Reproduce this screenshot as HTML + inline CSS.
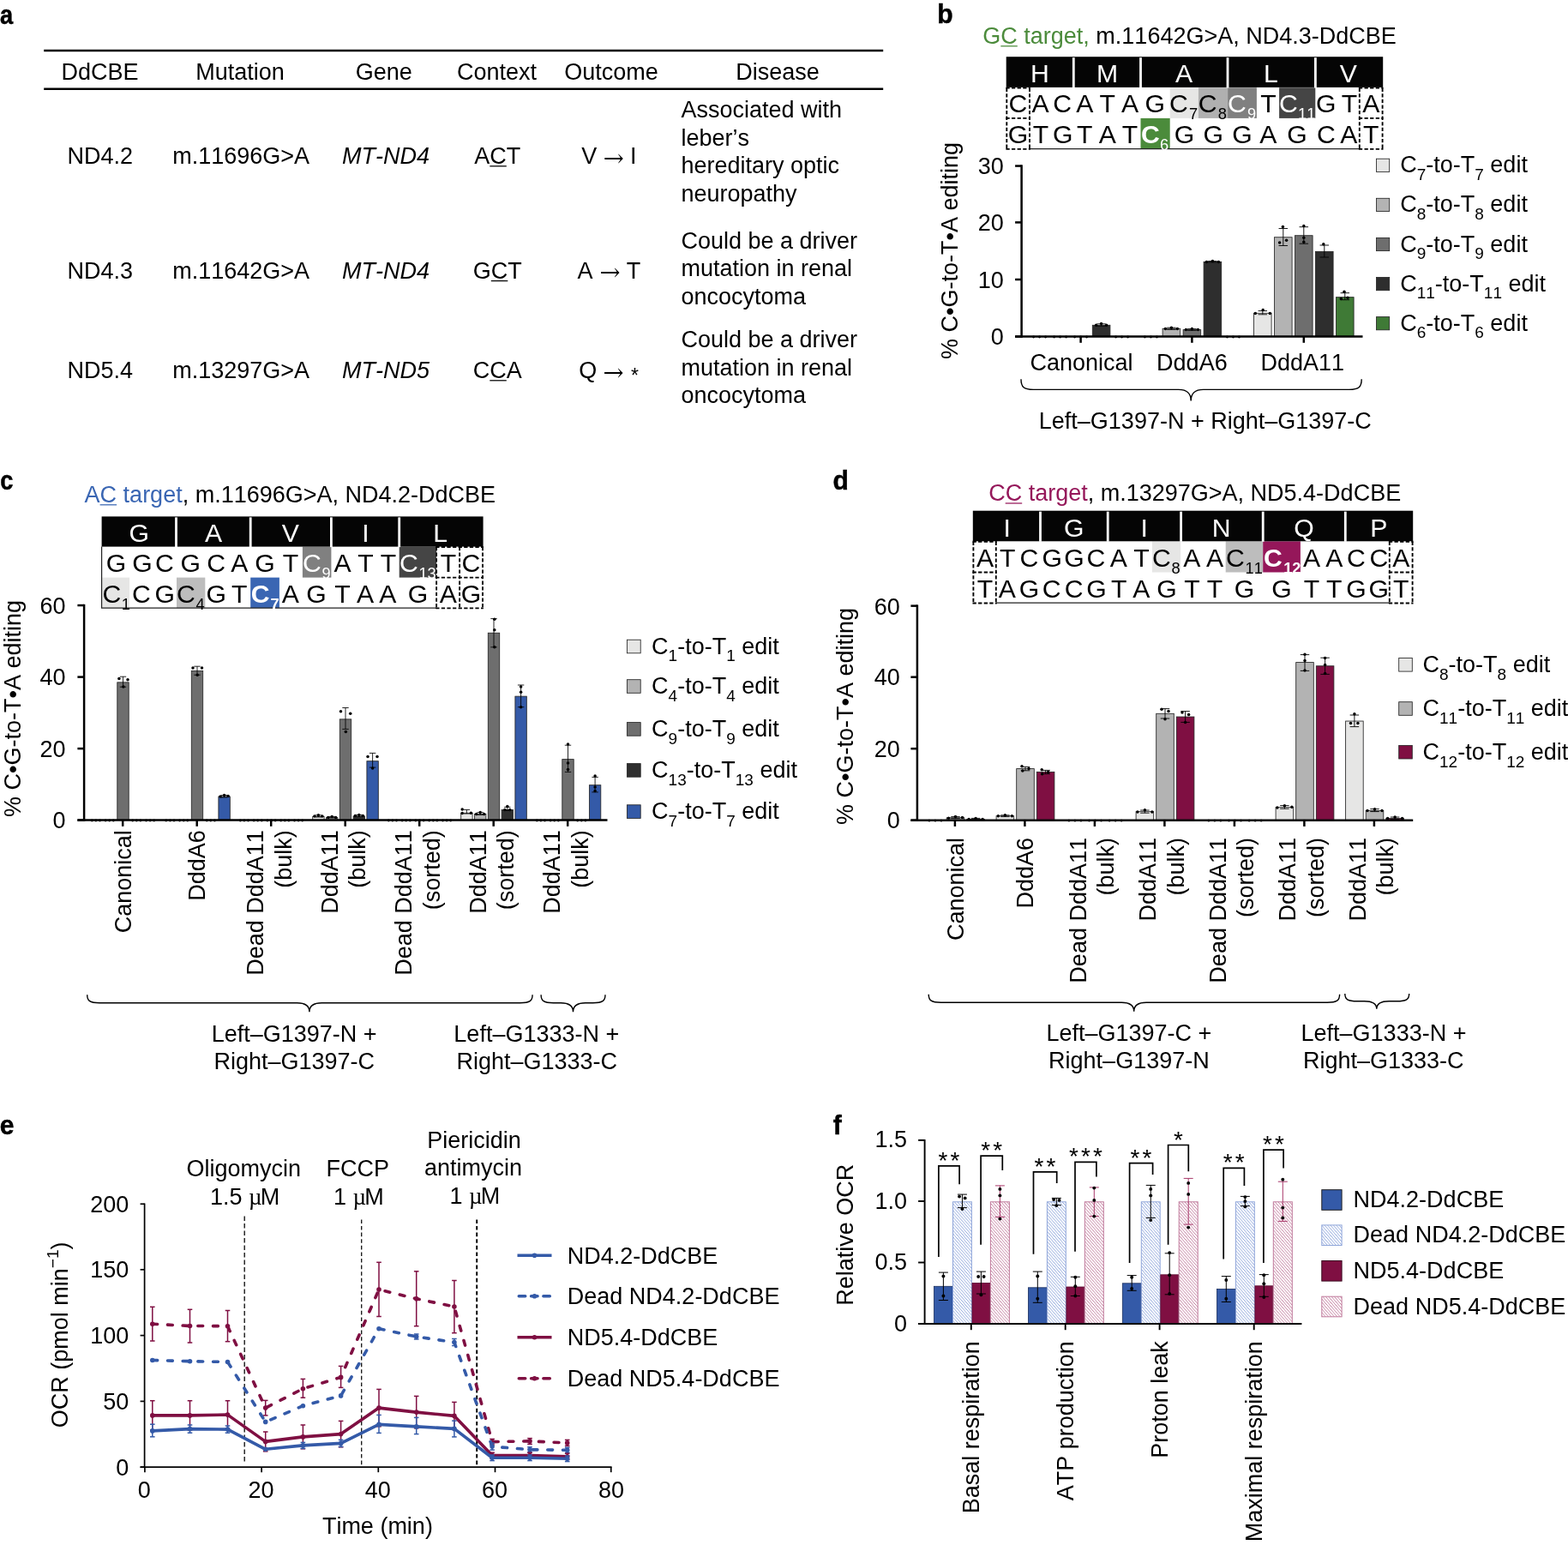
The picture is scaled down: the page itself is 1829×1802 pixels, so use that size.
<!DOCTYPE html>
<html lang="en"><head><meta charset="utf-8"><title>Figure</title>
<style>
html,body{margin:0;padding:0;background:#fff}
body{width:1829px;height:1802px;overflow:hidden}
svg{display:block;position:absolute;left:0;top:0;font-family:"Liberation Sans",sans-serif;font-size:27px;font-kerning:none}
text{white-space:pre}
</style></head><body>
<svg width="1829" height="1802" viewBox="0 0 1829 1802">
<rect width="1829" height="1802" fill="#fff"/>
<g id="pa">
<text transform="translate(0 28.2) scale(0.85 1)" font-size="32" font-weight="bold" stroke="#000" stroke-width="0.5">a</text>
<line x1="51.2" y1="59" x2="1030.2" y2="59" stroke="#000" stroke-width="2.5"/>
<line x1="51.2" y1="103.7" x2="1030.2" y2="103.7" stroke="#000" stroke-width="2.5"/>
<text text-anchor="middle" x="116.6" y="92.5">DdCBE</text>
<text text-anchor="middle" x="280" y="92.5">Mutation</text>
<text text-anchor="middle" x="447.7" y="92.5">Gene</text>
<text text-anchor="middle" x="579.5" y="92.5">Context</text>
<text text-anchor="middle" x="713" y="92.5">Outcome</text>
<text text-anchor="middle" x="907" y="92.5">Disease</text>
<text text-anchor="middle" x="116.7" y="191.2">ND4.2</text>
<text text-anchor="middle" x="281.2" y="191.2">m.11696G&gt;A</text>
<text text-anchor="middle" font-style="italic" x="450" y="191.2">MT-ND4</text>
<text text-anchor="middle" x="580.3" y="191.2">ACT</text>
<line x1="571.31" y1="193.8" x2="590.8" y2="193.8" stroke="#000" stroke-width="1.25"/>
<text y="191.2" text-anchor="middle"><tspan x="687.3">V</tspan><tspan x="715.9" dy="0.3" font-size="25.6" font-family="DejaVu Math TeX Gyre,DejaVu Sans,sans-serif"> → </tspan><tspan x="738.8" dy="-0.3">I</tspan></text>
<text x="794.5" y="137.4">Associated with</text>
<text x="794.5" y="169.87">leber’s</text>
<text x="794.5" y="202.34">hereditary optic</text>
<text x="794.5" y="234.81">neuropathy</text>
<text text-anchor="middle" x="116.7" y="325">ND4.3</text>
<text text-anchor="middle" x="281.2" y="325">m.11642G&gt;A</text>
<text text-anchor="middle" font-style="italic" x="450" y="325">MT-ND4</text>
<text text-anchor="middle" x="580.3" y="325">GCT</text>
<line x1="572.81" y1="327.6" x2="592.3" y2="327.6" stroke="#000" stroke-width="1.25"/>
<text y="325" text-anchor="middle"><tspan x="682.5">A</tspan><tspan x="711.6" dy="0.3" font-size="25.6" font-family="DejaVu Math TeX Gyre,DejaVu Sans,sans-serif"> → </tspan><tspan x="739" dy="-0.3">T</tspan></text>
<text x="794.5" y="289.8">Could be a driver</text>
<text x="794.5" y="322.27">mutation in renal</text>
<text x="794.5" y="354.74">oncocytoma</text>
<text text-anchor="middle" x="116.7" y="441.2">ND5.4</text>
<text text-anchor="middle" x="281.2" y="441.2">m.13297G&gt;A</text>
<text text-anchor="middle" font-style="italic" x="450" y="441.2">MT-ND5</text>
<text text-anchor="middle" x="580.3" y="441.2">CCA</text>
<line x1="571.3" y1="443.8" x2="590.79" y2="443.8" stroke="#000" stroke-width="1.25"/>
<text y="441.2" text-anchor="middle"><tspan x="685.8">Q</tspan><tspan x="715.6" dy="0.3" font-size="25.6" font-family="DejaVu Math TeX Gyre,DejaVu Sans,sans-serif"> → </tspan><tspan x="740.4" dy="4.9" font-size="23">*</tspan></text>
<text x="794.5" y="405.1">Could be a driver</text>
<text x="794.5" y="437.57">mutation in renal</text>
<text x="794.5" y="470.04">oncocytoma</text>
</g>
<g id="pb">
<text transform="translate(1093.3 27.4) scale(0.94 1)" font-size="32" font-weight="bold" stroke="#000" stroke-width="0.5">b</text>
<text x="1146.3" y="51.2"><tspan fill="#4b8b3b">G</tspan><tspan fill="#4b8b3b">C</tspan><tspan fill="#4b8b3b"> target,</tspan> m.11642G&gt;A, ND4.3-DdCBE</text>
<line x1="1167.31" y1="53.8" x2="1186.8" y2="53.8" stroke="#4b8b3b" stroke-width="1.25"/>
<rect x="1364.7" y="102.2" width="33.2" height="35.7" fill="#e6e6e5"/>
<rect x="1397.9" y="102.2" width="34.2" height="35.7" fill="#b0b0b0"/>
<rect x="1432.1" y="102.2" width="33.8" height="35.7" fill="#808080"/>
<rect x="1492.1" y="102.2" width="42.2" height="35.7" fill="#454545"/>
<rect x="1330.5" y="137.9" width="34.2" height="35.4" fill="#4b8b3b"/>
<rect x="1173.7" y="66.2" width="439.5" height="35.7" fill="#050505"/>
<rect x="1250.9" y="67.2" width="2.8" height="35.2" fill="#fff"/>
<rect x="1329.1" y="67.2" width="2.8" height="35.2" fill="#fff"/>
<rect x="1430.6" y="67.2" width="2.8" height="35.2" fill="#fff"/>
<rect x="1533" y="67.2" width="2.8" height="35.2" fill="#fff"/>
<text font-size="30.2" text-anchor="middle" fill="#fff" x="1213" y="96">H</text>
<text font-size="30.2" text-anchor="middle" fill="#fff" x="1291.5" y="96">M</text>
<text font-size="30.2" text-anchor="middle" fill="#fff" x="1381" y="96">A</text>
<text font-size="30.2" text-anchor="middle" fill="#fff" x="1482.4" y="96">L</text>
<text font-size="30.2" text-anchor="middle" fill="#fff" x="1572.8" y="96">V</text>
<line x1="1201" y1="173.6" x2="1586" y2="173.6" stroke="#222" stroke-width="1.2"/>
<line x1="1173.4" y1="102.6" x2="1201.9" y2="102.6" stroke="#000" stroke-width="1.85" stroke-dasharray="4.3 2.3"/>
<line x1="1173.4" y1="137.9" x2="1201.9" y2="137.9" stroke="#000" stroke-width="1.85" stroke-dasharray="4.3 2.3"/>
<line x1="1173.4" y1="173.9" x2="1201.9" y2="173.9" stroke="#000" stroke-width="1.85" stroke-dasharray="4.3 2.3"/>
<line x1="1174.3" y1="102.6" x2="1174.3" y2="173.9" stroke="#000" stroke-width="1.85" stroke-dasharray="4.3 2.3"/>
<line x1="1201" y1="102.6" x2="1201" y2="173.9" stroke="#000" stroke-width="1.85" stroke-dasharray="4.3 2.3"/>
<line x1="1584.9" y1="102.6" x2="1613.5" y2="102.6" stroke="#000" stroke-width="1.85" stroke-dasharray="4.3 2.3"/>
<line x1="1584.9" y1="137.9" x2="1613.5" y2="137.9" stroke="#000" stroke-width="1.85" stroke-dasharray="4.3 2.3"/>
<line x1="1584.9" y1="173.9" x2="1613.5" y2="173.9" stroke="#000" stroke-width="1.85" stroke-dasharray="4.3 2.3"/>
<line x1="1585.8" y1="102.6" x2="1585.8" y2="173.9" stroke="#000" stroke-width="1.85" stroke-dasharray="4.3 2.3"/>
<line x1="1612.6" y1="102.6" x2="1612.6" y2="173.9" stroke="#000" stroke-width="1.85" stroke-dasharray="4.3 2.3"/>
<text font-size="30.2" text-anchor="middle" x="1187.4" y="131.4">C</text>
<text font-size="30.2" text-anchor="middle" x="1213.6" y="131.4">A</text>
<text font-size="30.2" text-anchor="middle" x="1239.1" y="131.4">C</text>
<text font-size="30.2" text-anchor="middle" x="1265.3" y="131.4">A</text>
<text font-size="30.2" text-anchor="middle" x="1291.8" y="131.4">T</text>
<text font-size="30.2" text-anchor="middle" x="1318" y="131.4">A</text>
<text font-size="30.2" text-anchor="middle" x="1347.2" y="131.4">G</text>
<text font-size="30.2" text-anchor="middle" x="1375" y="131.4">C</text>
<text font-size="18.3" x="1387" y="138.9">7</text>
<text font-size="30.2" text-anchor="middle" x="1408.7" y="131.4">C</text>
<text font-size="18.3" x="1420.7" y="138.9">8</text>
<text font-size="30.2" text-anchor="middle" fill="#fff" x="1442.9" y="131.4">C</text>
<text font-size="18.3" fill="#fff" x="1454.9" y="138.9">9</text>
<text font-size="30.2" text-anchor="middle" x="1479.5" y="131.4">T</text>
<text font-size="30.2" text-anchor="middle" fill="#fff" x="1503" y="131.4">C</text>
<text font-size="18.3" fill="#fff" x="1514" y="138.9">11</text>
<text font-size="30.2" text-anchor="middle" x="1546.8" y="131.4">G</text>
<text font-size="30.2" text-anchor="middle" x="1574" y="131.4">T</text>
<text font-size="30.2" text-anchor="middle" x="1599.3" y="131.4">A</text>
<text font-size="30.2" text-anchor="middle" x="1187.4" y="167.1">G</text>
<text font-size="30.2" text-anchor="middle" x="1214.1" y="167.1">T</text>
<text font-size="30.2" text-anchor="middle" x="1239.8" y="167.1">G</text>
<text font-size="30.2" text-anchor="middle" x="1265.3" y="167.1">T</text>
<text font-size="30.2" text-anchor="middle" x="1291.8" y="167.1">A</text>
<text font-size="30.2" text-anchor="middle" x="1318" y="167.1">T</text>
<text font-size="30.2" text-anchor="middle" fill="#fff" font-weight="bold" x="1341.8" y="167.1">C</text>
<text font-size="18.3" fill="#fff" x="1353" y="174.6">6</text>
<text font-size="30.2" text-anchor="middle" x="1381.4" y="167.1">G</text>
<text font-size="30.2" text-anchor="middle" x="1415.2" y="167.1">G</text>
<text font-size="30.2" text-anchor="middle" x="1449" y="167.1">G</text>
<text font-size="30.2" text-anchor="middle" x="1479.3" y="167.1">A</text>
<text font-size="30.2" text-anchor="middle" x="1513" y="167.1">G</text>
<text font-size="30.2" text-anchor="middle" x="1546.8" y="167.1">C</text>
<text font-size="30.2" text-anchor="middle" x="1573.2" y="167.1">A</text>
<text font-size="30.2" text-anchor="middle" x="1599.3" y="167.1">T</text>
<line x1="1184.1" y1="392.6" x2="1191.6" y2="392.6" stroke="#000" stroke-width="2.5"/>
<text text-anchor="end" x="1170.7" y="402.2">0</text>
<line x1="1184.1" y1="326" x2="1191.6" y2="326" stroke="#000" stroke-width="2.5"/>
<text text-anchor="end" x="1170.7" y="335.6">10</text>
<line x1="1184.1" y1="259.4" x2="1191.6" y2="259.4" stroke="#000" stroke-width="2.5"/>
<text text-anchor="end" x="1170.7" y="269">20</text>
<line x1="1184.1" y1="193.55" x2="1191.6" y2="193.55" stroke="#000" stroke-width="2.5"/>
<text text-anchor="end" x="1170.7" y="203.2">30</text>
<text text-anchor="middle" transform="translate(1116.6 292.5) rotate(-90)">% C•G-to-T•A editing</text>
<circle cx="1205.6" cy="393.05" r="1.45" fill="#000"/>
<circle cx="1212.6" cy="393.05" r="1.45" fill="#000"/>
<circle cx="1219.6" cy="393.05" r="1.45" fill="#000"/>
<circle cx="1229.6" cy="393.05" r="1.45" fill="#000"/>
<circle cx="1236.6" cy="393.05" r="1.45" fill="#000"/>
<circle cx="1243.6" cy="393.05" r="1.45" fill="#000"/>
<circle cx="1253.6" cy="393.05" r="1.45" fill="#000"/>
<circle cx="1260.6" cy="393.05" r="1.45" fill="#000"/>
<circle cx="1267.6" cy="393.05" r="1.45" fill="#000"/>
<circle cx="1301.6" cy="393.05" r="1.45" fill="#000"/>
<circle cx="1308.6" cy="393.05" r="1.45" fill="#000"/>
<circle cx="1315.6" cy="393.05" r="1.45" fill="#000"/>
<circle cx="1335.4" cy="393.05" r="1.45" fill="#000"/>
<circle cx="1342.4" cy="393.05" r="1.45" fill="#000"/>
<circle cx="1349.4" cy="393.05" r="1.45" fill="#000"/>
<circle cx="1431.4" cy="393.05" r="1.45" fill="#000"/>
<circle cx="1438.4" cy="393.05" r="1.45" fill="#000"/>
<circle cx="1445.4" cy="393.05" r="1.45" fill="#000"/>
<rect x="1274.3" y="379.28" width="20.6" height="13.32" fill="#2e2e2e" stroke="#262626" stroke-width="0.85"/>
<rect x="1356.1" y="383.28" width="20.6" height="9.32" fill="#b3b3b3" stroke="#262626" stroke-width="0.85"/>
<rect x="1380.1" y="384.61" width="20.6" height="7.99" fill="#6e6e6e" stroke="#262626" stroke-width="0.85"/>
<rect x="1404.1" y="305.35" width="20.6" height="87.25" fill="#2e2e2e" stroke="#262626" stroke-width="0.85"/>
<rect x="1462.5" y="365.29" width="20.6" height="27.31" fill="#e6e6e5" stroke="#262626" stroke-width="0.85"/>
<rect x="1486.5" y="276.72" width="20.6" height="115.88" fill="#b3b3b3" stroke="#262626" stroke-width="0.85"/>
<rect x="1510.5" y="274.72" width="20.6" height="117.88" fill="#6e6e6e" stroke="#262626" stroke-width="0.85"/>
<rect x="1534.5" y="293.37" width="20.6" height="99.23" fill="#2e2e2e" stroke="#262626" stroke-width="0.85"/>
<rect x="1558.5" y="346.65" width="20.6" height="45.95" fill="#3f7a36" stroke="#262626" stroke-width="0.85"/>
<line x1="1284.6" y1="377.8" x2="1284.6" y2="380.2" stroke="#000" stroke-width="0.9"/>
<line x1="1279.35" y1="377.8" x2="1289.85" y2="377.8" stroke="#000" stroke-width="0.9"/>
<line x1="1279.35" y1="380.2" x2="1289.85" y2="380.2" stroke="#000" stroke-width="0.9"/>
<circle cx="1278.6" cy="379.3" r="1.75" fill="#000"/>
<circle cx="1284.6" cy="377.4" r="1.75" fill="#000"/>
<circle cx="1290.6" cy="379.3" r="1.75" fill="#000"/>
<line x1="1366.4" y1="382.2" x2="1366.4" y2="384.4" stroke="#000" stroke-width="0.9"/>
<line x1="1361.15" y1="382.2" x2="1371.65" y2="382.2" stroke="#000" stroke-width="0.9"/>
<line x1="1361.15" y1="384.4" x2="1371.65" y2="384.4" stroke="#000" stroke-width="0.9"/>
<circle cx="1359.4" cy="383.4" r="1.75" fill="#000"/>
<circle cx="1366.4" cy="382.2" r="1.75" fill="#000"/>
<circle cx="1373.4" cy="383.4" r="1.75" fill="#000"/>
<line x1="1390.4" y1="383.6" x2="1390.4" y2="385.4" stroke="#000" stroke-width="0.9"/>
<line x1="1385.15" y1="383.6" x2="1395.65" y2="383.6" stroke="#000" stroke-width="0.9"/>
<line x1="1385.15" y1="385.4" x2="1395.65" y2="385.4" stroke="#000" stroke-width="0.9"/>
<circle cx="1383.4" cy="384.6" r="1.75" fill="#000"/>
<circle cx="1390.4" cy="383.6" r="1.75" fill="#000"/>
<circle cx="1397.4" cy="384.6" r="1.75" fill="#000"/>
<line x1="1414.4" y1="304.6" x2="1414.4" y2="305.9" stroke="#000" stroke-width="0.9"/>
<line x1="1409.15" y1="304.6" x2="1419.65" y2="304.6" stroke="#000" stroke-width="0.9"/>
<line x1="1409.15" y1="305.9" x2="1419.65" y2="305.9" stroke="#000" stroke-width="0.9"/>
<circle cx="1407.4" cy="305.4" r="1.75" fill="#000"/>
<circle cx="1414.4" cy="304.6" r="1.75" fill="#000"/>
<circle cx="1421.4" cy="305.4" r="1.75" fill="#000"/>
<line x1="1472.8" y1="362.6" x2="1472.8" y2="366.8" stroke="#000" stroke-width="0.9"/>
<line x1="1467.55" y1="362.6" x2="1478.05" y2="362.6" stroke="#000" stroke-width="0.9"/>
<line x1="1467.55" y1="366.8" x2="1478.05" y2="366.8" stroke="#000" stroke-width="0.9"/>
<circle cx="1464.3" cy="365.4" r="1.75" fill="#000"/>
<circle cx="1473.2" cy="361.4" r="1.75" fill="#000"/>
<circle cx="1481.3" cy="365.4" r="1.75" fill="#000"/>
<line x1="1496.8" y1="266.5" x2="1496.8" y2="286.5" stroke="#000" stroke-width="0.9"/>
<line x1="1491.55" y1="266.5" x2="1502.05" y2="266.5" stroke="#000" stroke-width="0.9"/>
<line x1="1491.55" y1="286.5" x2="1502.05" y2="286.5" stroke="#000" stroke-width="0.9"/>
<circle cx="1496.4" cy="264.5" r="1.75" fill="#000"/>
<circle cx="1492.6" cy="283" r="1.75" fill="#000"/>
<circle cx="1500.6" cy="280.2" r="1.75" fill="#000"/>
<line x1="1520.8" y1="264.7" x2="1520.8" y2="284.2" stroke="#000" stroke-width="0.9"/>
<line x1="1515.55" y1="264.7" x2="1526.05" y2="264.7" stroke="#000" stroke-width="0.9"/>
<line x1="1515.55" y1="284.2" x2="1526.05" y2="284.2" stroke="#000" stroke-width="0.9"/>
<circle cx="1520.8" cy="263.5" r="1.75" fill="#000"/>
<circle cx="1520.8" cy="277.2" r="1.75" fill="#000"/>
<circle cx="1520.8" cy="282.2" r="1.75" fill="#000"/>
<line x1="1544.8" y1="286" x2="1544.8" y2="300" stroke="#000" stroke-width="0.9"/>
<line x1="1539.55" y1="286" x2="1550.05" y2="286" stroke="#000" stroke-width="0.9"/>
<line x1="1539.55" y1="300" x2="1550.05" y2="300" stroke="#000" stroke-width="0.9"/>
<circle cx="1543.8" cy="284.7" r="1.75" fill="#000"/>
<line x1="1568.8" y1="341.7" x2="1568.8" y2="349.7" stroke="#000" stroke-width="0.9"/>
<line x1="1563.55" y1="341.7" x2="1574.05" y2="341.7" stroke="#000" stroke-width="0.9"/>
<line x1="1563.55" y1="349.7" x2="1574.05" y2="349.7" stroke="#000" stroke-width="0.9"/>
<circle cx="1568" cy="340.2" r="1.75" fill="#000"/>
<circle cx="1564.3" cy="348.4" r="1.75" fill="#000"/>
<circle cx="1572" cy="347.2" r="1.75" fill="#000"/>
<line x1="1191.6" y1="192.3" x2="1191.6" y2="393.85" stroke="#000" stroke-width="2.5"/>
<line x1="1184.1" y1="392.6" x2="1589.5" y2="392.6" stroke="#000" stroke-width="2.5"/>
<line x1="1260.6" y1="392.6" x2="1260.6" y2="399.8" stroke="#000" stroke-width="2.5"/>
<line x1="1390.4" y1="392.6" x2="1390.4" y2="399.8" stroke="#000" stroke-width="2.5"/>
<line x1="1520.8" y1="392.6" x2="1520.8" y2="399.8" stroke="#000" stroke-width="2.5"/>
<text text-anchor="middle" x="1261.5" y="431.6">Canonical</text>
<text text-anchor="middle" x="1390.4" y="431.6">DddA6</text>
<text text-anchor="middle" x="1519.3" y="431.6">DddA11</text>
<path d="M1191,442.3 C1191,451.38 1194.15,454.4 1205.4,454.4 L1374.8,454.4 C1384.7,454.4 1389.2,458.33 1389.2,467.5 C1389.2,458.33 1393.7,454.4 1403.6,454.4 L1573.8,454.4 C1585.05,454.4 1588.2,451.38 1588.2,442.3" fill="none" stroke="#000" stroke-width="1.4"/>
<text text-anchor="middle" x="1405.8" y="499.7">Left–G1397-N + Right–G1397-C</text>
<rect x="1605.5" y="185.2" width="15.2" height="15.2" fill="#e6e6e5" stroke="#262626" stroke-width="0.85"/>
<text x="1633.2" y="201.3">C<tspan font-size="19" dy="8.6">7</tspan><tspan dy="-8.6">-to-T</tspan><tspan font-size="19" dy="8.6">7</tspan><tspan dy="-8.6"> edit</tspan></text>
<rect x="1605.5" y="231.3" width="15.2" height="15.2" fill="#b3b3b3" stroke="#262626" stroke-width="0.85"/>
<text x="1633.2" y="247.4">C<tspan font-size="19" dy="8.6">8</tspan><tspan dy="-8.6">-to-T</tspan><tspan font-size="19" dy="8.6">8</tspan><tspan dy="-8.6"> edit</tspan></text>
<rect x="1605.5" y="277.4" width="15.2" height="15.2" fill="#6e6e6e" stroke="#262626" stroke-width="0.85"/>
<text x="1633.2" y="293.5">C<tspan font-size="19" dy="8.6">9</tspan><tspan dy="-8.6">-to-T</tspan><tspan font-size="19" dy="8.6">9</tspan><tspan dy="-8.6"> edit</tspan></text>
<rect x="1605.5" y="323.5" width="15.2" height="15.2" fill="#2e2e2e" stroke="#262626" stroke-width="0.85"/>
<text x="1633.2" y="339.6">C<tspan font-size="19" dy="8.6">11</tspan><tspan dy="-8.6">-to-T</tspan><tspan font-size="19" dy="8.6">11</tspan><tspan dy="-8.6"> edit</tspan></text>
<rect x="1605.5" y="369.6" width="15.2" height="15.2" fill="#3f7a36" stroke="#262626" stroke-width="0.85"/>
<text x="1633.2" y="385.7">C<tspan font-size="19" dy="8.6">6</tspan><tspan dy="-8.6">-to-T</tspan><tspan font-size="19" dy="8.6">6</tspan><tspan dy="-8.6"> edit</tspan></text>
</g>
<g id="pc">
<text transform="translate(0.2 570.5) scale(0.85 1)" font-size="32" font-weight="bold" stroke="#000" stroke-width="0.5">c</text>
<text x="98.6" y="586.2"><tspan fill="#3a66b3">A</tspan><tspan fill="#3a66b3">C</tspan><tspan fill="#3a66b3"> target</tspan>, m.11696G&gt;A, ND4.2-DdCBE</text>
<line x1="116.61" y1="588.8" x2="136.1" y2="588.8" stroke="#3a66b3" stroke-width="1.25"/>
<rect x="352.9" y="637.6" width="33.5" height="36" fill="#808080"/>
<rect x="465.7" y="637.6" width="43.4" height="36" fill="#454545"/>
<rect x="119.2" y="673.6" width="31.9" height="35.5" fill="#e6e6e5"/>
<rect x="206" y="673.6" width="33.3" height="35.5" fill="#bdbdbd"/>
<rect x="292.2" y="673.6" width="33.7" height="35.5" fill="#3a66b3"/>
<rect x="118.6" y="602.4" width="445" height="35.2" fill="#050505"/>
<rect x="204.1" y="603.4" width="2.8" height="34.7" fill="#fff"/>
<rect x="290.8" y="603.4" width="2.8" height="34.7" fill="#fff"/>
<rect x="385" y="603.4" width="2.8" height="34.7" fill="#fff"/>
<rect x="464.3" y="603.4" width="2.8" height="34.7" fill="#fff"/>
<text font-size="30.2" text-anchor="middle" fill="#fff" x="162.3" y="631.8">G</text>
<text font-size="30.2" text-anchor="middle" fill="#fff" x="249" y="631.8">A</text>
<text font-size="30.2" text-anchor="middle" fill="#fff" x="338.9" y="631.8">V</text>
<text font-size="30.2" text-anchor="middle" fill="#fff" x="426.5" y="631.8">I</text>
<text font-size="30.2" text-anchor="middle" fill="#fff" x="513.6" y="631.8">L</text>
<line x1="118.6" y1="637.6" x2="118.6" y2="709.1" stroke="#222" stroke-width="1.2"/>
<line x1="118" y1="709.1" x2="509.1" y2="709.1" stroke="#222" stroke-width="1.2"/>
<line x1="508.2" y1="638" x2="563.9" y2="638" stroke="#000" stroke-width="1.85" stroke-dasharray="4.3 2.3"/>
<line x1="508.2" y1="673.6" x2="563.9" y2="673.6" stroke="#000" stroke-width="1.85" stroke-dasharray="4.3 2.3"/>
<line x1="508.2" y1="709.4" x2="563.9" y2="709.4" stroke="#000" stroke-width="1.85" stroke-dasharray="4.3 2.3"/>
<line x1="509.1" y1="638" x2="509.1" y2="709.4" stroke="#000" stroke-width="1.85" stroke-dasharray="4.3 2.3"/>
<line x1="536.1" y1="638" x2="536.1" y2="709.4" stroke="#000" stroke-width="1.85" stroke-dasharray="4.3 2.3"/>
<line x1="563" y1="638" x2="563" y2="709.4" stroke="#000" stroke-width="1.85" stroke-dasharray="4.3 2.3"/>
<text font-size="30.2" text-anchor="middle" x="135.6" y="667.3">G</text>
<text font-size="30.2" text-anchor="middle" x="166.1" y="667.3">G</text>
<text font-size="30.2" text-anchor="middle" x="191.8" y="667.3">C</text>
<text font-size="30.2" text-anchor="middle" x="222.3" y="667.3">G</text>
<text font-size="30.2" text-anchor="middle" x="252.2" y="667.3">C</text>
<text font-size="30.2" text-anchor="middle" x="279.2" y="667.3">A</text>
<text font-size="30.2" text-anchor="middle" x="308.9" y="667.3">G</text>
<text font-size="30.2" text-anchor="middle" x="338.9" y="667.3">T</text>
<text font-size="30.2" text-anchor="middle" fill="#fff" x="364" y="667.3">C</text>
<text font-size="18.3" fill="#fff" x="375.6" y="674.8">9</text>
<text font-size="30.2" text-anchor="middle" x="399.6" y="667.3">A</text>
<text font-size="30.2" text-anchor="middle" x="426.5" y="667.3">T</text>
<text font-size="30.2" text-anchor="middle" x="452.9" y="667.3">T</text>
<text font-size="30.2" text-anchor="middle" fill="#fff" x="476.8" y="667.3">C</text>
<text font-size="18.3" fill="#fff" x="488.4" y="674.8">13</text>
<text font-size="30.2" text-anchor="middle" x="522.9" y="667.3">T</text>
<text font-size="30.2" text-anchor="middle" x="549.4" y="667.3">C</text>
<text font-size="30.2" text-anchor="middle" x="130.3" y="703">C</text>
<text font-size="18.3" x="141.8" y="710.5">1</text>
<text font-size="30.2" text-anchor="middle" x="164.8" y="703">C</text>
<text font-size="30.2" text-anchor="middle" x="192.3" y="703">G</text>
<text font-size="30.2" text-anchor="middle" x="217" y="703">C</text>
<text font-size="18.3" x="228.6" y="710.5">4</text>
<text font-size="30.2" text-anchor="middle" x="252.2" y="703">G</text>
<text font-size="30.2" text-anchor="middle" x="279.2" y="703">T</text>
<text font-size="30.2" text-anchor="middle" fill="#fff" font-weight="bold" x="303.6" y="703">C</text>
<text font-size="18.3" fill="#fff" font-weight="bold" x="315.5" y="710.5">7</text>
<text font-size="30.2" text-anchor="middle" x="338.9" y="703">A</text>
<text font-size="30.2" text-anchor="middle" x="369.1" y="703">G</text>
<text font-size="30.2" text-anchor="middle" x="399.6" y="703">T</text>
<text font-size="30.2" text-anchor="middle" x="426" y="703">A</text>
<text font-size="30.2" text-anchor="middle" x="452.4" y="703">A</text>
<text font-size="30.2" text-anchor="middle" x="487.4" y="703">G</text>
<text font-size="30.2" text-anchor="middle" x="522.9" y="703">A</text>
<text font-size="30.2" text-anchor="middle" x="549.4" y="703">G</text>
<line x1="90.4" y1="956.6" x2="98.1" y2="956.6" stroke="#000" stroke-width="2.5"/>
<text text-anchor="end" x="76.6" y="966.3">0</text>
<line x1="90.4" y1="873.1" x2="98.1" y2="873.1" stroke="#000" stroke-width="2.5"/>
<text text-anchor="end" x="76.6" y="882.8">20</text>
<line x1="90.4" y1="789.6" x2="98.1" y2="789.6" stroke="#000" stroke-width="2.5"/>
<text text-anchor="end" x="76.6" y="799.3">40</text>
<line x1="90.4" y1="706.05" x2="98.1" y2="706.05" stroke="#000" stroke-width="2.5"/>
<text text-anchor="end" x="76.6" y="716.4">60</text>
<text text-anchor="middle" transform="translate(23.9 826.5) rotate(-90)">% C•G-to-T•A editing</text>
<circle cx="107.3" cy="957.05" r="1.45" fill="#000"/>
<circle cx="111.9" cy="957.05" r="1.45" fill="#000"/>
<circle cx="116.5" cy="957.05" r="1.45" fill="#000"/>
<circle cx="123.1" cy="957.05" r="1.45" fill="#000"/>
<circle cx="127.7" cy="957.05" r="1.45" fill="#000"/>
<circle cx="132.3" cy="957.05" r="1.45" fill="#000"/>
<circle cx="154.7" cy="957.05" r="1.45" fill="#000"/>
<circle cx="159.3" cy="957.05" r="1.45" fill="#000"/>
<circle cx="163.9" cy="957.05" r="1.45" fill="#000"/>
<circle cx="170.5" cy="957.05" r="1.45" fill="#000"/>
<circle cx="175.1" cy="957.05" r="1.45" fill="#000"/>
<circle cx="179.7" cy="957.05" r="1.45" fill="#000"/>
<circle cx="193.8" cy="957.05" r="1.45" fill="#000"/>
<circle cx="198.4" cy="957.05" r="1.45" fill="#000"/>
<circle cx="203" cy="957.05" r="1.45" fill="#000"/>
<circle cx="209.6" cy="957.05" r="1.45" fill="#000"/>
<circle cx="214.2" cy="957.05" r="1.45" fill="#000"/>
<circle cx="218.8" cy="957.05" r="1.45" fill="#000"/>
<circle cx="241.2" cy="957.05" r="1.45" fill="#000"/>
<circle cx="245.8" cy="957.05" r="1.45" fill="#000"/>
<circle cx="250.4" cy="957.05" r="1.45" fill="#000"/>
<circle cx="280.3" cy="957.05" r="1.45" fill="#000"/>
<circle cx="284.9" cy="957.05" r="1.45" fill="#000"/>
<circle cx="289.5" cy="957.05" r="1.45" fill="#000"/>
<circle cx="296.1" cy="957.05" r="1.45" fill="#000"/>
<circle cx="300.7" cy="957.05" r="1.45" fill="#000"/>
<circle cx="305.3" cy="957.05" r="1.45" fill="#000"/>
<circle cx="311.9" cy="957.05" r="1.45" fill="#000"/>
<circle cx="316.5" cy="957.05" r="1.45" fill="#000"/>
<circle cx="321.1" cy="957.05" r="1.45" fill="#000"/>
<circle cx="327.7" cy="957.05" r="1.45" fill="#000"/>
<circle cx="332.3" cy="957.05" r="1.45" fill="#000"/>
<circle cx="336.9" cy="957.05" r="1.45" fill="#000"/>
<circle cx="343.5" cy="957.05" r="1.45" fill="#000"/>
<circle cx="348.1" cy="957.05" r="1.45" fill="#000"/>
<circle cx="352.7" cy="957.05" r="1.45" fill="#000"/>
<circle cx="453.3" cy="957.05" r="1.45" fill="#000"/>
<circle cx="457.9" cy="957.05" r="1.45" fill="#000"/>
<circle cx="462.5" cy="957.05" r="1.45" fill="#000"/>
<circle cx="469.1" cy="957.05" r="1.45" fill="#000"/>
<circle cx="473.7" cy="957.05" r="1.45" fill="#000"/>
<circle cx="478.3" cy="957.05" r="1.45" fill="#000"/>
<circle cx="484.9" cy="957.05" r="1.45" fill="#000"/>
<circle cx="489.5" cy="957.05" r="1.45" fill="#000"/>
<circle cx="494.1" cy="957.05" r="1.45" fill="#000"/>
<circle cx="500.7" cy="957.05" r="1.45" fill="#000"/>
<circle cx="505.3" cy="957.05" r="1.45" fill="#000"/>
<circle cx="509.9" cy="957.05" r="1.45" fill="#000"/>
<circle cx="516.5" cy="957.05" r="1.45" fill="#000"/>
<circle cx="521.1" cy="957.05" r="1.45" fill="#000"/>
<circle cx="525.7" cy="957.05" r="1.45" fill="#000"/>
<circle cx="626.3" cy="957.05" r="1.45" fill="#000"/>
<circle cx="630.9" cy="957.05" r="1.45" fill="#000"/>
<circle cx="635.5" cy="957.05" r="1.45" fill="#000"/>
<circle cx="642.1" cy="957.05" r="1.45" fill="#000"/>
<circle cx="646.7" cy="957.05" r="1.45" fill="#000"/>
<circle cx="651.3" cy="957.05" r="1.45" fill="#000"/>
<circle cx="673.7" cy="957.05" r="1.45" fill="#000"/>
<circle cx="678.3" cy="957.05" r="1.45" fill="#000"/>
<circle cx="682.9" cy="957.05" r="1.45" fill="#000"/>
<rect x="136.8" y="795.86" width="13.4" height="160.74" fill="#6e6e6e" stroke="#262626" stroke-width="0.85"/>
<rect x="223.3" y="782.5" width="13.4" height="174.1" fill="#6e6e6e" stroke="#262626" stroke-width="0.85"/>
<rect x="254.9" y="929.05" width="13.4" height="27.55" fill="#345aa8" stroke="#262626" stroke-width="0.85"/>
<rect x="364.7" y="952.43" width="13.4" height="4.17" fill="#e6e6e5" stroke="#262626" stroke-width="0.85"/>
<rect x="380.5" y="953.68" width="13.4" height="2.92" fill="#b3b3b3" stroke="#262626" stroke-width="0.85"/>
<rect x="396.3" y="838.87" width="13.4" height="117.74" fill="#6e6e6e" stroke="#262626" stroke-width="0.85"/>
<rect x="412.1" y="952.01" width="13.4" height="4.59" fill="#2e2e2e" stroke="#262626" stroke-width="0.85"/>
<rect x="427.9" y="887.71" width="13.4" height="68.89" fill="#345aa8" stroke="#262626" stroke-width="0.85"/>
<rect x="537.7" y="948.25" width="13.4" height="8.35" fill="#e6e6e5" stroke="#262626" stroke-width="0.85"/>
<rect x="553.5" y="949.5" width="13.4" height="7.1" fill="#b3b3b3" stroke="#262626" stroke-width="0.85"/>
<rect x="569.3" y="738.25" width="13.4" height="218.35" fill="#6e6e6e" stroke="#262626" stroke-width="0.85"/>
<rect x="585.1" y="944.49" width="13.4" height="12.11" fill="#2e2e2e" stroke="#262626" stroke-width="0.85"/>
<rect x="600.9" y="812.14" width="13.4" height="144.46" fill="#345aa8" stroke="#262626" stroke-width="0.85"/>
<rect x="655.8" y="885.62" width="13.4" height="70.98" fill="#6e6e6e" stroke="#262626" stroke-width="0.85"/>
<rect x="687.4" y="915.69" width="13.4" height="40.91" fill="#345aa8" stroke="#262626" stroke-width="0.85"/>
<line x1="143.5" y1="789.2" x2="143.5" y2="801.2" stroke="#000" stroke-width="0.85"/>
<line x1="139.8" y1="789.2" x2="147.2" y2="789.2" stroke="#000" stroke-width="0.85"/>
<line x1="139.8" y1="801.2" x2="147.2" y2="801.2" stroke="#000" stroke-width="0.85"/>
<circle cx="138.9" cy="791.5" r="1.75" fill="#000"/>
<circle cx="149" cy="792.7" r="1.75" fill="#000"/>
<circle cx="143.9" cy="801" r="1.75" fill="#000"/>
<line x1="230" y1="777.2" x2="230" y2="787.2" stroke="#000" stroke-width="0.85"/>
<line x1="226.3" y1="777.2" x2="233.7" y2="777.2" stroke="#000" stroke-width="0.85"/>
<line x1="226.3" y1="787.2" x2="233.7" y2="787.2" stroke="#000" stroke-width="0.85"/>
<circle cx="225" cy="779" r="1.75" fill="#000"/>
<circle cx="235.5" cy="779" r="1.75" fill="#000"/>
<circle cx="230.2" cy="787.2" r="1.75" fill="#000"/>
<line x1="261.6" y1="927.6" x2="261.6" y2="930" stroke="#000" stroke-width="0.85"/>
<line x1="257.9" y1="927.6" x2="265.3" y2="927.6" stroke="#000" stroke-width="0.85"/>
<line x1="257.9" y1="930" x2="265.3" y2="930" stroke="#000" stroke-width="0.85"/>
<circle cx="257.1" cy="928.9" r="1.75" fill="#000"/>
<circle cx="261.6" cy="927.6" r="1.75" fill="#000"/>
<circle cx="266.1" cy="928.4" r="1.75" fill="#000"/>
<line x1="371.4" y1="950.8" x2="371.4" y2="953" stroke="#000" stroke-width="0.85"/>
<line x1="367.7" y1="950.8" x2="375.1" y2="950.8" stroke="#000" stroke-width="0.85"/>
<line x1="367.7" y1="953" x2="375.1" y2="953" stroke="#000" stroke-width="0.85"/>
<circle cx="366.9" cy="952" r="1.75" fill="#000"/>
<circle cx="371.4" cy="950.8" r="1.75" fill="#000"/>
<circle cx="375.9" cy="952" r="1.75" fill="#000"/>
<line x1="387.2" y1="952.4" x2="387.2" y2="954" stroke="#000" stroke-width="0.85"/>
<line x1="383.5" y1="952.4" x2="390.9" y2="952.4" stroke="#000" stroke-width="0.85"/>
<line x1="383.5" y1="954" x2="390.9" y2="954" stroke="#000" stroke-width="0.85"/>
<circle cx="382.7" cy="953.4" r="1.75" fill="#000"/>
<circle cx="387.2" cy="952.6" r="1.75" fill="#000"/>
<circle cx="391.7" cy="953.4" r="1.75" fill="#000"/>
<line x1="403" y1="825.5" x2="403" y2="850.4" stroke="#000" stroke-width="0.85"/>
<line x1="399.3" y1="825.5" x2="406.7" y2="825.5" stroke="#000" stroke-width="0.85"/>
<line x1="399.3" y1="850.4" x2="406.7" y2="850.4" stroke="#000" stroke-width="0.85"/>
<circle cx="397.5" cy="829.7" r="1.75" fill="#000"/>
<circle cx="408.7" cy="832.2" r="1.75" fill="#000"/>
<circle cx="403.3" cy="853.4" r="1.75" fill="#000"/>
<line x1="418.8" y1="950.4" x2="418.8" y2="952.4" stroke="#000" stroke-width="0.85"/>
<line x1="415.1" y1="950.4" x2="422.5" y2="950.4" stroke="#000" stroke-width="0.85"/>
<line x1="415.1" y1="952.4" x2="422.5" y2="952.4" stroke="#000" stroke-width="0.85"/>
<circle cx="414.3" cy="951.6" r="1.75" fill="#000"/>
<circle cx="418.8" cy="950.4" r="1.75" fill="#000"/>
<circle cx="423.3" cy="951.6" r="1.75" fill="#000"/>
<line x1="434.6" y1="878.4" x2="434.6" y2="895.1" stroke="#000" stroke-width="0.85"/>
<line x1="430.9" y1="878.4" x2="438.3" y2="878.4" stroke="#000" stroke-width="0.85"/>
<line x1="430.9" y1="895.1" x2="438.3" y2="895.1" stroke="#000" stroke-width="0.85"/>
<circle cx="429" cy="882.6" r="1.75" fill="#000"/>
<circle cx="440" cy="882.6" r="1.75" fill="#000"/>
<circle cx="434.6" cy="895.9" r="1.75" fill="#000"/>
<line x1="544.4" y1="944.4" x2="544.4" y2="949" stroke="#000" stroke-width="0.85"/>
<line x1="540.7" y1="944.4" x2="548.1" y2="944.4" stroke="#000" stroke-width="0.85"/>
<line x1="540.7" y1="949" x2="548.1" y2="949" stroke="#000" stroke-width="0.85"/>
<circle cx="539.2" cy="944" r="1.75" fill="#000"/>
<circle cx="539.2" cy="948.6" r="1.75" fill="#000"/>
<circle cx="549.4" cy="948.2" r="1.75" fill="#000"/>
<line x1="560.2" y1="947.6" x2="560.2" y2="950.4" stroke="#000" stroke-width="0.85"/>
<line x1="556.5" y1="947.6" x2="563.9" y2="947.6" stroke="#000" stroke-width="0.85"/>
<line x1="556.5" y1="950.4" x2="563.9" y2="950.4" stroke="#000" stroke-width="0.85"/>
<circle cx="555.7" cy="949.4" r="1.75" fill="#000"/>
<circle cx="560.2" cy="947.6" r="1.75" fill="#000"/>
<circle cx="564.7" cy="949.4" r="1.75" fill="#000"/>
<line x1="576" y1="721.6" x2="576" y2="754.8" stroke="#000" stroke-width="0.85"/>
<line x1="572.3" y1="721.6" x2="579.7" y2="721.6" stroke="#000" stroke-width="0.85"/>
<line x1="572.3" y1="754.8" x2="579.7" y2="754.8" stroke="#000" stroke-width="0.85"/>
<circle cx="576.8" cy="722.3" r="1.75" fill="#000"/>
<circle cx="576.8" cy="734.8" r="1.75" fill="#000"/>
<circle cx="576.8" cy="754.8" r="1.75" fill="#000"/>
<line x1="591.8" y1="941.4" x2="591.8" y2="945.4" stroke="#000" stroke-width="0.85"/>
<line x1="588.1" y1="941.4" x2="595.5" y2="941.4" stroke="#000" stroke-width="0.85"/>
<line x1="588.1" y1="945.4" x2="595.5" y2="945.4" stroke="#000" stroke-width="0.85"/>
<circle cx="591.8" cy="940.6" r="1.75" fill="#000"/>
<circle cx="588.8" cy="944.6" r="1.75" fill="#000"/>
<circle cx="594.8" cy="944.6" r="1.75" fill="#000"/>
<line x1="607.6" y1="799" x2="607.6" y2="824.7" stroke="#000" stroke-width="0.85"/>
<line x1="603.9" y1="799" x2="611.3" y2="799" stroke="#000" stroke-width="0.85"/>
<line x1="603.9" y1="824.7" x2="611.3" y2="824.7" stroke="#000" stroke-width="0.85"/>
<circle cx="607.6" cy="801" r="1.75" fill="#000"/>
<circle cx="607.6" cy="807.2" r="1.75" fill="#000"/>
<circle cx="607.6" cy="824.7" r="1.75" fill="#000"/>
<line x1="662.5" y1="869.2" x2="662.5" y2="900.4" stroke="#000" stroke-width="0.85"/>
<line x1="658.8" y1="869.2" x2="666.2" y2="869.2" stroke="#000" stroke-width="0.85"/>
<line x1="658.8" y1="900.4" x2="666.2" y2="900.4" stroke="#000" stroke-width="0.85"/>
<circle cx="662.5" cy="867.9" r="1.75" fill="#000"/>
<circle cx="662.5" cy="890.1" r="1.75" fill="#000"/>
<circle cx="662.5" cy="897.6" r="1.75" fill="#000"/>
<line x1="694.1" y1="906.4" x2="694.1" y2="923.9" stroke="#000" stroke-width="0.85"/>
<line x1="690.4" y1="906.4" x2="697.8" y2="906.4" stroke="#000" stroke-width="0.85"/>
<line x1="690.4" y1="923.9" x2="697.8" y2="923.9" stroke="#000" stroke-width="0.85"/>
<circle cx="694.1" cy="905.1" r="1.75" fill="#000"/>
<circle cx="694.1" cy="917.9" r="1.75" fill="#000"/>
<circle cx="694.1" cy="922.6" r="1.75" fill="#000"/>
<line x1="98.1" y1="704.8" x2="98.1" y2="957.85" stroke="#000" stroke-width="2.5"/>
<line x1="90.4" y1="956.6" x2="708.5" y2="956.6" stroke="#000" stroke-width="2.5"/>
<line x1="143.2" y1="956.6" x2="143.2" y2="963.8" stroke="#000" stroke-width="2.5"/>
<line x1="229.7" y1="956.6" x2="229.7" y2="963.8" stroke="#000" stroke-width="2.5"/>
<line x1="316.2" y1="956.6" x2="316.2" y2="963.8" stroke="#000" stroke-width="2.5"/>
<line x1="402.7" y1="956.6" x2="402.7" y2="963.8" stroke="#000" stroke-width="2.5"/>
<line x1="489.2" y1="956.6" x2="489.2" y2="963.8" stroke="#000" stroke-width="2.5"/>
<line x1="575.7" y1="956.6" x2="575.7" y2="963.8" stroke="#000" stroke-width="2.5"/>
<line x1="662.2" y1="956.6" x2="662.2" y2="963.8" stroke="#000" stroke-width="2.5"/>
<text text-anchor="end" transform="translate(152.8 968.2) rotate(-90)">Canonical</text>
<text text-anchor="end" transform="translate(239.3 968.2) rotate(-90)">DddA6</text>
<text text-anchor="end" transform="translate(307 968.2) rotate(-90)">Dead DddA11</text>
<text text-anchor="end" transform="translate(339.8 968.2) rotate(-90)">(bulk)</text>
<text text-anchor="end" transform="translate(393.5 968.2) rotate(-90)">DddA11</text>
<text text-anchor="end" transform="translate(426.3 968.2) rotate(-90)">(bulk)</text>
<text text-anchor="end" transform="translate(480 968.2) rotate(-90)">Dead DddA11</text>
<text text-anchor="end" transform="translate(512.8 968.2) rotate(-90)">(sorted)</text>
<text text-anchor="end" transform="translate(566.5 968.2) rotate(-90)">DddA11</text>
<text text-anchor="end" transform="translate(599.3 968.2) rotate(-90)">(sorted)</text>
<text text-anchor="end" transform="translate(653 968.2) rotate(-90)">DddA11</text>
<text text-anchor="end" transform="translate(685.8 968.2) rotate(-90)">(bulk)</text>
<path d="M101.7,1160.2 C101.7,1167.33 104.85,1169.7 116.1,1169.7 L346.5,1169.7 C356.4,1169.7 360.9,1172.85 360.9,1180.2 C360.9,1172.85 365.4,1169.7 375.3,1169.7 L606.7,1169.7 C617.95,1169.7 621.1,1167.33 621.1,1160.2" fill="none" stroke="#000" stroke-width="1.4"/>
<path d="M631.1,1160.2 C631.1,1167.33 634.25,1169.7 645.5,1169.7 L654.1,1169.7 C664,1169.7 668.5,1172.85 668.5,1180.2 C668.5,1172.85 673,1169.7 682.9,1169.7 L691.6,1169.7 C702.85,1169.7 706,1167.33 706,1160.2" fill="none" stroke="#000" stroke-width="1.4"/>
<text text-anchor="middle" x="343.2" y="1215.2">Left–G1397-N +</text>
<text text-anchor="middle" x="343.2" y="1247.1">Right–G1397-C</text>
<text text-anchor="middle" x="625.8" y="1215.2">Left–G1333-N +</text>
<text text-anchor="middle" x="626.2" y="1247.1">Right–G1333-C</text>
<rect x="731.4" y="746.2" width="15.8" height="15.6" fill="#e6e6e5" stroke="#262626" stroke-width="0.85"/>
<text x="760.1" y="762.8">C<tspan font-size="19" dy="8.6">1</tspan><tspan dy="-8.6">-to-T</tspan><tspan font-size="19" dy="8.6">1</tspan><tspan dy="-8.6"> edit</tspan></text>
<rect x="731.4" y="792.7" width="15.8" height="15.6" fill="#b3b3b3" stroke="#262626" stroke-width="0.85"/>
<text x="760.1" y="809.3">C<tspan font-size="19" dy="8.6">4</tspan><tspan dy="-8.6">-to-T</tspan><tspan font-size="19" dy="8.6">4</tspan><tspan dy="-8.6"> edit</tspan></text>
<rect x="731.4" y="842.6" width="15.8" height="15.6" fill="#6e6e6e" stroke="#262626" stroke-width="0.85"/>
<text x="760.1" y="859.2">C<tspan font-size="19" dy="8.6">9</tspan><tspan dy="-8.6">-to-T</tspan><tspan font-size="19" dy="8.6">9</tspan><tspan dy="-8.6"> edit</tspan></text>
<rect x="731.4" y="890.6" width="15.8" height="15.6" fill="#2e2e2e" stroke="#262626" stroke-width="0.85"/>
<text x="760.1" y="907.2">C<tspan font-size="19" dy="8.6">13</tspan><tspan dy="-8.6">-to-T</tspan><tspan font-size="19" dy="8.6">13</tspan><tspan dy="-8.6"> edit</tspan></text>
<rect x="731.4" y="938.8" width="15.8" height="15.6" fill="#345aa8" stroke="#262626" stroke-width="0.85"/>
<text x="760.1" y="955.4">C<tspan font-size="19" dy="8.6">7</tspan><tspan dy="-8.6">-to-T</tspan><tspan font-size="19" dy="8.6">7</tspan><tspan dy="-8.6"> edit</tspan></text>
</g>
<g id="pd">
<text transform="translate(971.4 570.8) scale(0.94 1)" font-size="32" font-weight="bold" stroke="#000" stroke-width="0.5">d</text>
<text x="1153.2" y="584.4"><tspan fill="#95175a">C</tspan><tspan fill="#95175a">C</tspan><tspan fill="#95175a"> target</tspan>, m.13297G&gt;A, ND5.4-DdCBE</text>
<line x1="1172.69" y1="587" x2="1192.19" y2="587" stroke="#95175a" stroke-width="1.25"/>
<rect x="1343.9" y="631.3" width="33.2" height="36.2" fill="#e6e6e5"/>
<rect x="1429.7" y="631.3" width="43.5" height="36.2" fill="#bdbdbd"/>
<rect x="1473.2" y="631.3" width="43.7" height="36.2" fill="#95175a"/>
<rect x="1134.8" y="595.7" width="513.4" height="35.6" fill="#050505"/>
<rect x="1212.1" y="596.7" width="2.8" height="35.1" fill="#fff"/>
<rect x="1290.8" y="596.7" width="2.8" height="35.1" fill="#fff"/>
<rect x="1376.2" y="596.7" width="2.8" height="35.1" fill="#fff"/>
<rect x="1471.8" y="596.7" width="2.8" height="35.1" fill="#fff"/>
<rect x="1567.9" y="596.7" width="2.8" height="35.1" fill="#fff"/>
<text font-size="30.2" text-anchor="middle" fill="#fff" x="1174.8" y="625.5">I</text>
<text font-size="30.2" text-anchor="middle" fill="#fff" x="1252.7" y="625.5">G</text>
<text font-size="30.2" text-anchor="middle" fill="#fff" x="1334.6" y="625.5">I</text>
<text font-size="30.2" text-anchor="middle" fill="#fff" x="1424.7" y="625.5">N</text>
<text font-size="30.2" text-anchor="middle" fill="#fff" x="1520.9" y="625.5">Q</text>
<text font-size="30.2" text-anchor="middle" fill="#fff" x="1608.3" y="625.5">P</text>
<line x1="1161.8" y1="703.2" x2="1620.8" y2="703.2" stroke="#222" stroke-width="1.2"/>
<line x1="1134.5" y1="631.7" x2="1162.7" y2="631.7" stroke="#000" stroke-width="1.85" stroke-dasharray="4.3 2.3"/>
<line x1="1134.5" y1="667.5" x2="1162.7" y2="667.5" stroke="#000" stroke-width="1.85" stroke-dasharray="4.3 2.3"/>
<line x1="1134.5" y1="703.5" x2="1162.7" y2="703.5" stroke="#000" stroke-width="1.85" stroke-dasharray="4.3 2.3"/>
<line x1="1135.4" y1="631.7" x2="1135.4" y2="703.5" stroke="#000" stroke-width="1.85" stroke-dasharray="4.3 2.3"/>
<line x1="1161.8" y1="631.7" x2="1161.8" y2="703.5" stroke="#000" stroke-width="1.85" stroke-dasharray="4.3 2.3"/>
<line x1="1619.9" y1="631.7" x2="1648.5" y2="631.7" stroke="#000" stroke-width="1.85" stroke-dasharray="4.3 2.3"/>
<line x1="1619.9" y1="667.5" x2="1648.5" y2="667.5" stroke="#000" stroke-width="1.85" stroke-dasharray="4.3 2.3"/>
<line x1="1619.9" y1="703.5" x2="1648.5" y2="703.5" stroke="#000" stroke-width="1.85" stroke-dasharray="4.3 2.3"/>
<line x1="1620.8" y1="631.7" x2="1620.8" y2="703.5" stroke="#000" stroke-width="1.85" stroke-dasharray="4.3 2.3"/>
<line x1="1647.6" y1="631.7" x2="1647.6" y2="703.5" stroke="#000" stroke-width="1.85" stroke-dasharray="4.3 2.3"/>
<text font-size="30.2" text-anchor="middle" x="1149.1" y="661.1">A</text>
<text font-size="30.2" text-anchor="middle" x="1175.3" y="661.1">T</text>
<text font-size="30.2" text-anchor="middle" x="1200.3" y="661.1">C</text>
<text font-size="30.2" text-anchor="middle" x="1227.2" y="661.1">G</text>
<text font-size="30.2" text-anchor="middle" x="1253" y="661.1">G</text>
<text font-size="30.2" text-anchor="middle" x="1278.4" y="661.1">C</text>
<text font-size="30.2" text-anchor="middle" x="1304.7" y="661.1">A</text>
<text font-size="30.2" text-anchor="middle" x="1331.4" y="661.1">T</text>
<text font-size="30.2" text-anchor="middle" x="1355" y="661.1">C</text>
<text font-size="18.3" x="1366.4" y="668.6">8</text>
<text font-size="30.2" text-anchor="middle" x="1390.4" y="661.1">A</text>
<text font-size="30.2" text-anchor="middle" x="1417" y="661.1">A</text>
<text font-size="30.2" text-anchor="middle" x="1440.8" y="661.1">C</text>
<text font-size="18.3" x="1452.6" y="668.6">11</text>
<text font-size="30.2" text-anchor="middle" fill="#fff" font-weight="bold" x="1484.8" y="661.1">C</text>
<text font-size="18.3" fill="#fff" font-weight="bold" x="1497.2" y="668.6">12</text>
<text font-size="30.2" text-anchor="middle" x="1530.1" y="661.1">A</text>
<text font-size="30.2" text-anchor="middle" x="1556.3" y="661.1">A</text>
<text font-size="30.2" text-anchor="middle" x="1581.8" y="661.1">C</text>
<text font-size="30.2" text-anchor="middle" x="1608.3" y="661.1">C</text>
<text font-size="30.2" text-anchor="middle" x="1634.2" y="661.1">A</text>
<text font-size="30.2" text-anchor="middle" x="1149.1" y="696.8">T</text>
<text font-size="30.2" text-anchor="middle" x="1174.8" y="696.8">A</text>
<text font-size="30.2" text-anchor="middle" x="1200.5" y="696.8">G</text>
<text font-size="30.2" text-anchor="middle" x="1226.7" y="696.8">C</text>
<text font-size="30.2" text-anchor="middle" x="1252.7" y="696.8">C</text>
<text font-size="30.2" text-anchor="middle" x="1278.9" y="696.8">G</text>
<text font-size="30.2" text-anchor="middle" x="1305.2" y="696.8">T</text>
<text font-size="30.2" text-anchor="middle" x="1331.4" y="696.8">A</text>
<text font-size="30.2" text-anchor="middle" x="1360.9" y="696.8">G</text>
<text font-size="30.2" text-anchor="middle" x="1390.4" y="696.8">T</text>
<text font-size="30.2" text-anchor="middle" x="1417" y="696.8">T</text>
<text font-size="30.2" text-anchor="middle" x="1451.4" y="696.8">G</text>
<text font-size="30.2" text-anchor="middle" x="1495.1" y="696.8">G</text>
<text font-size="30.2" text-anchor="middle" x="1530.1" y="696.8">T</text>
<text font-size="30.2" text-anchor="middle" x="1556.3" y="696.8">T</text>
<text font-size="30.2" text-anchor="middle" x="1582" y="696.8">G</text>
<text font-size="30.2" text-anchor="middle" x="1608.3" y="696.8">G</text>
<text font-size="30.2" text-anchor="middle" x="1634.2" y="696.8">T</text>
<line x1="1062.4" y1="956.7" x2="1069.9" y2="956.7" stroke="#000" stroke-width="2.5"/>
<text text-anchor="end" x="1049.7" y="966.4">0</text>
<line x1="1062.4" y1="873.2" x2="1069.9" y2="873.2" stroke="#000" stroke-width="2.5"/>
<text text-anchor="end" x="1049.7" y="882.9">20</text>
<line x1="1062.4" y1="789.7" x2="1069.9" y2="789.7" stroke="#000" stroke-width="2.5"/>
<text text-anchor="end" x="1049.7" y="799.4">40</text>
<line x1="1062.4" y1="706.65" x2="1069.9" y2="706.65" stroke="#000" stroke-width="2.5"/>
<text text-anchor="end" x="1049.7" y="716.5">60</text>
<text text-anchor="middle" transform="translate(995.2 835.5) rotate(-90)">% C•G-to-T•A editing</text>
<circle cx="1083.9" cy="957.15" r="1.45" fill="#000"/>
<circle cx="1090.9" cy="957.15" r="1.45" fill="#000"/>
<circle cx="1097.9" cy="957.15" r="1.45" fill="#000"/>
<circle cx="1246.9" cy="957.15" r="1.45" fill="#000"/>
<circle cx="1253.9" cy="957.15" r="1.45" fill="#000"/>
<circle cx="1260.9" cy="957.15" r="1.45" fill="#000"/>
<circle cx="1270.5" cy="957.15" r="1.45" fill="#000"/>
<circle cx="1277.5" cy="957.15" r="1.45" fill="#000"/>
<circle cx="1284.5" cy="957.15" r="1.45" fill="#000"/>
<circle cx="1294.1" cy="957.15" r="1.45" fill="#000"/>
<circle cx="1301.1" cy="957.15" r="1.45" fill="#000"/>
<circle cx="1308.1" cy="957.15" r="1.45" fill="#000"/>
<circle cx="1409.9" cy="957.15" r="1.45" fill="#000"/>
<circle cx="1416.9" cy="957.15" r="1.45" fill="#000"/>
<circle cx="1423.9" cy="957.15" r="1.45" fill="#000"/>
<circle cx="1433.5" cy="957.15" r="1.45" fill="#000"/>
<circle cx="1440.5" cy="957.15" r="1.45" fill="#000"/>
<circle cx="1447.5" cy="957.15" r="1.45" fill="#000"/>
<circle cx="1457.1" cy="957.15" r="1.45" fill="#000"/>
<circle cx="1464.1" cy="957.15" r="1.45" fill="#000"/>
<circle cx="1471.1" cy="957.15" r="1.45" fill="#000"/>
<rect x="1104.2" y="953.78" width="20.6" height="2.92" fill="#b3b3b3" stroke="#262626" stroke-width="0.85"/>
<rect x="1127.8" y="955.45" width="20.6" height="1.25" fill="#7f0f42" stroke="#262626" stroke-width="0.85"/>
<rect x="1162.1" y="951.69" width="20.6" height="5.01" fill="#e6e6e5" stroke="#262626" stroke-width="0.85"/>
<rect x="1185.7" y="896.58" width="20.6" height="60.12" fill="#b3b3b3" stroke="#262626" stroke-width="0.85"/>
<rect x="1209.3" y="900.34" width="20.6" height="56.36" fill="#7f0f42" stroke="#262626" stroke-width="0.85"/>
<rect x="1325.1" y="946.68" width="20.6" height="10.02" fill="#e6e6e5" stroke="#262626" stroke-width="0.85"/>
<rect x="1348.7" y="832.29" width="20.6" height="124.41" fill="#b3b3b3" stroke="#262626" stroke-width="0.85"/>
<rect x="1372.3" y="836.04" width="20.6" height="120.66" fill="#7f0f42" stroke="#262626" stroke-width="0.85"/>
<rect x="1488.1" y="941.67" width="20.6" height="15.03" fill="#e6e6e5" stroke="#262626" stroke-width="0.85"/>
<rect x="1511.7" y="772.58" width="20.6" height="184.12" fill="#b3b3b3" stroke="#262626" stroke-width="0.85"/>
<rect x="1535.3" y="776.76" width="20.6" height="179.94" fill="#7f0f42" stroke="#262626" stroke-width="0.85"/>
<rect x="1569.6" y="841.05" width="20.6" height="115.65" fill="#e6e6e5" stroke="#262626" stroke-width="0.85"/>
<rect x="1593.2" y="945.43" width="20.6" height="11.27" fill="#b3b3b3" stroke="#262626" stroke-width="0.85"/>
<rect x="1616.8" y="954.61" width="20.6" height="2.09" fill="#7f0f42" stroke="#262626" stroke-width="0.85"/>
<line x1="1114.5" y1="952.6" x2="1114.5" y2="954.6" stroke="#000" stroke-width="0.9"/>
<line x1="1109.25" y1="952.6" x2="1119.75" y2="952.6" stroke="#000" stroke-width="0.9"/>
<line x1="1109.25" y1="954.6" x2="1119.75" y2="954.6" stroke="#000" stroke-width="0.9"/>
<circle cx="1106.5" cy="954.2" r="1.75" fill="#000"/>
<circle cx="1114.5" cy="952.6" r="1.75" fill="#000"/>
<circle cx="1122.5" cy="953.6" r="1.75" fill="#000"/>
<line x1="1138.1" y1="954.4" x2="1138.1" y2="955.8" stroke="#000" stroke-width="0.9"/>
<line x1="1132.85" y1="954.4" x2="1143.35" y2="954.4" stroke="#000" stroke-width="0.9"/>
<line x1="1132.85" y1="955.8" x2="1143.35" y2="955.8" stroke="#000" stroke-width="0.9"/>
<circle cx="1130.1" cy="955.4" r="1.75" fill="#000"/>
<circle cx="1138.1" cy="954.4" r="1.75" fill="#000"/>
<circle cx="1146.1" cy="955.4" r="1.75" fill="#000"/>
<line x1="1172.4" y1="950.8" x2="1172.4" y2="952.6" stroke="#000" stroke-width="0.9"/>
<line x1="1167.15" y1="950.8" x2="1177.65" y2="950.8" stroke="#000" stroke-width="0.9"/>
<line x1="1167.15" y1="952.6" x2="1177.65" y2="952.6" stroke="#000" stroke-width="0.9"/>
<circle cx="1164.4" cy="951.8" r="1.75" fill="#000"/>
<circle cx="1172.4" cy="950.8" r="1.75" fill="#000"/>
<circle cx="1180.4" cy="951.8" r="1.75" fill="#000"/>
<line x1="1196" y1="894.4" x2="1196" y2="898.8" stroke="#000" stroke-width="0.9"/>
<line x1="1190.75" y1="894.4" x2="1201.25" y2="894.4" stroke="#000" stroke-width="0.9"/>
<line x1="1190.75" y1="898.8" x2="1201.25" y2="898.8" stroke="#000" stroke-width="0.9"/>
<circle cx="1192" cy="893.8" r="1.75" fill="#000"/>
<circle cx="1200" cy="896.6" r="1.75" fill="#000"/>
<circle cx="1192.8" cy="899" r="1.75" fill="#000"/>
<line x1="1219.6" y1="898.4" x2="1219.6" y2="902.6" stroke="#000" stroke-width="0.9"/>
<line x1="1214.35" y1="898.4" x2="1224.85" y2="898.4" stroke="#000" stroke-width="0.9"/>
<line x1="1214.35" y1="902.6" x2="1224.85" y2="902.6" stroke="#000" stroke-width="0.9"/>
<circle cx="1215.2" cy="897.8" r="1.75" fill="#000"/>
<circle cx="1222.6" cy="900.6" r="1.75" fill="#000"/>
<circle cx="1215.6" cy="902.8" r="1.75" fill="#000"/>
<line x1="1335.4" y1="945" x2="1335.4" y2="948.2" stroke="#000" stroke-width="0.9"/>
<line x1="1330.15" y1="945" x2="1340.65" y2="945" stroke="#000" stroke-width="0.9"/>
<line x1="1330.15" y1="948.2" x2="1340.65" y2="948.2" stroke="#000" stroke-width="0.9"/>
<circle cx="1326.9" cy="947" r="1.75" fill="#000"/>
<circle cx="1335.4" cy="944.8" r="1.75" fill="#000"/>
<circle cx="1343.9" cy="947" r="1.75" fill="#000"/>
<line x1="1359" y1="826.6" x2="1359" y2="838" stroke="#000" stroke-width="0.9"/>
<line x1="1353.75" y1="826.6" x2="1364.25" y2="826.6" stroke="#000" stroke-width="0.9"/>
<line x1="1353.75" y1="838" x2="1364.25" y2="838" stroke="#000" stroke-width="0.9"/>
<circle cx="1355" cy="827.2" r="1.75" fill="#000"/>
<circle cx="1363" cy="829.6" r="1.75" fill="#000"/>
<circle cx="1359" cy="838.8" r="1.75" fill="#000"/>
<line x1="1382.6" y1="829.6" x2="1382.6" y2="842.4" stroke="#000" stroke-width="0.9"/>
<line x1="1377.35" y1="829.6" x2="1387.85" y2="829.6" stroke="#000" stroke-width="0.9"/>
<line x1="1377.35" y1="842.4" x2="1387.85" y2="842.4" stroke="#000" stroke-width="0.9"/>
<circle cx="1379" cy="831" r="1.75" fill="#000"/>
<circle cx="1386.6" cy="833.6" r="1.75" fill="#000"/>
<circle cx="1382.6" cy="842.6" r="1.75" fill="#000"/>
<line x1="1498.4" y1="939.6" x2="1498.4" y2="943.2" stroke="#000" stroke-width="0.9"/>
<line x1="1493.15" y1="939.6" x2="1503.65" y2="939.6" stroke="#000" stroke-width="0.9"/>
<line x1="1493.15" y1="943.2" x2="1503.65" y2="943.2" stroke="#000" stroke-width="0.9"/>
<circle cx="1489.9" cy="942" r="1.75" fill="#000"/>
<circle cx="1498.4" cy="939.8" r="1.75" fill="#000"/>
<circle cx="1506.9" cy="941.2" r="1.75" fill="#000"/>
<line x1="1522" y1="763.6" x2="1522" y2="782.4" stroke="#000" stroke-width="0.9"/>
<line x1="1516.75" y1="763.6" x2="1527.25" y2="763.6" stroke="#000" stroke-width="0.9"/>
<line x1="1516.75" y1="782.4" x2="1527.25" y2="782.4" stroke="#000" stroke-width="0.9"/>
<circle cx="1522" cy="763.2" r="1.75" fill="#000"/>
<circle cx="1522" cy="770.6" r="1.75" fill="#000"/>
<circle cx="1522" cy="782" r="1.75" fill="#000"/>
<line x1="1545.6" y1="767.2" x2="1545.6" y2="786.4" stroke="#000" stroke-width="0.9"/>
<line x1="1540.35" y1="767.2" x2="1550.85" y2="767.2" stroke="#000" stroke-width="0.9"/>
<line x1="1540.35" y1="786.4" x2="1550.85" y2="786.4" stroke="#000" stroke-width="0.9"/>
<circle cx="1545.6" cy="767.6" r="1.75" fill="#000"/>
<circle cx="1545.6" cy="775.6" r="1.75" fill="#000"/>
<circle cx="1545.6" cy="785.6" r="1.75" fill="#000"/>
<line x1="1579.9" y1="834" x2="1579.9" y2="847.6" stroke="#000" stroke-width="0.9"/>
<line x1="1574.65" y1="834" x2="1585.15" y2="834" stroke="#000" stroke-width="0.9"/>
<line x1="1574.65" y1="847.6" x2="1585.15" y2="847.6" stroke="#000" stroke-width="0.9"/>
<circle cx="1579.9" cy="832.8" r="1.75" fill="#000"/>
<circle cx="1575.5" cy="843.6" r="1.75" fill="#000"/>
<circle cx="1583.9" cy="843.6" r="1.75" fill="#000"/>
<line x1="1603.5" y1="943.6" x2="1603.5" y2="946.6" stroke="#000" stroke-width="0.9"/>
<line x1="1598.25" y1="943.6" x2="1608.75" y2="943.6" stroke="#000" stroke-width="0.9"/>
<line x1="1598.25" y1="946.6" x2="1608.75" y2="946.6" stroke="#000" stroke-width="0.9"/>
<circle cx="1595" cy="945.4" r="1.75" fill="#000"/>
<circle cx="1603.5" cy="943.8" r="1.75" fill="#000"/>
<circle cx="1612" cy="945.4" r="1.75" fill="#000"/>
<line x1="1627.1" y1="953" x2="1627.1" y2="955.4" stroke="#000" stroke-width="0.9"/>
<line x1="1621.85" y1="953" x2="1632.35" y2="953" stroke="#000" stroke-width="0.9"/>
<line x1="1621.85" y1="955.4" x2="1632.35" y2="955.4" stroke="#000" stroke-width="0.9"/>
<circle cx="1618.6" cy="954.6" r="1.75" fill="#000"/>
<circle cx="1627.1" cy="953" r="1.75" fill="#000"/>
<circle cx="1635.6" cy="954.6" r="1.75" fill="#000"/>
<line x1="1069.9" y1="705.4" x2="1069.9" y2="957.95" stroke="#000" stroke-width="2.5"/>
<line x1="1062.4" y1="956.7" x2="1648.2" y2="956.7" stroke="#000" stroke-width="2.5"/>
<line x1="1113.9" y1="956.7" x2="1113.9" y2="963.9" stroke="#000" stroke-width="2.5"/>
<line x1="1195.4" y1="956.7" x2="1195.4" y2="963.9" stroke="#000" stroke-width="2.5"/>
<line x1="1276.9" y1="956.7" x2="1276.9" y2="963.9" stroke="#000" stroke-width="2.5"/>
<line x1="1358.4" y1="956.7" x2="1358.4" y2="963.9" stroke="#000" stroke-width="2.5"/>
<line x1="1439.9" y1="956.7" x2="1439.9" y2="963.9" stroke="#000" stroke-width="2.5"/>
<line x1="1521.4" y1="956.7" x2="1521.4" y2="963.9" stroke="#000" stroke-width="2.5"/>
<line x1="1602.9" y1="956.7" x2="1602.9" y2="963.9" stroke="#000" stroke-width="2.5"/>
<text text-anchor="end" transform="translate(1123.5 977) rotate(-90)">Canonical</text>
<text text-anchor="end" transform="translate(1205 977) rotate(-90)">DddA6</text>
<text text-anchor="end" transform="translate(1266.5 977) rotate(-90)">Dead DddA11</text>
<text text-anchor="end" transform="translate(1299.3 977) rotate(-90)">(bulk)</text>
<text text-anchor="end" transform="translate(1348 977) rotate(-90)">DddA11</text>
<text text-anchor="end" transform="translate(1380.8 977) rotate(-90)">(bulk)</text>
<text text-anchor="end" transform="translate(1429.5 977) rotate(-90)">Dead DddA11</text>
<text text-anchor="end" transform="translate(1462.3 977) rotate(-90)">(sorted)</text>
<text text-anchor="end" transform="translate(1511 977) rotate(-90)">DddA11</text>
<text text-anchor="end" transform="translate(1543.8 977) rotate(-90)">(sorted)</text>
<text text-anchor="end" transform="translate(1592.5 977) rotate(-90)">DddA11</text>
<text text-anchor="end" transform="translate(1625.3 977) rotate(-90)">(bulk)</text>
<path d="M1083.2,1159.7 C1083.2,1166.83 1086.35,1169.2 1097.6,1169.2 L1308.3,1169.2 C1318.2,1169.2 1322.7,1172.35 1322.7,1179.7 C1322.7,1172.35 1327.2,1169.2 1337.1,1169.2 L1548.2,1169.2 C1559.45,1169.2 1562.6,1166.83 1562.6,1159.7" fill="none" stroke="#000" stroke-width="1.4"/>
<path d="M1568.8,1159 C1568.8,1165.53 1571.95,1167.7 1583.2,1167.7 L1591.4,1167.7 C1601.3,1167.7 1605.8,1170.43 1605.8,1176.8 C1605.8,1170.43 1610.3,1167.7 1620.2,1167.7 L1629.3,1167.7 C1640.55,1167.7 1643.7,1165.53 1643.7,1159" fill="none" stroke="#000" stroke-width="1.4"/>
<text text-anchor="middle" x="1316.9" y="1213.9">Left–G1397-C +</text>
<text text-anchor="middle" x="1316.9" y="1246.4">Right–G1397-N</text>
<text text-anchor="middle" x="1614" y="1213.9">Left–G1333-N +</text>
<text text-anchor="middle" x="1613.8" y="1246.4">Right–G1333-C</text>
<rect x="1631.7" y="767.5" width="15.6" height="15.6" fill="#e6e6e5" stroke="#262626" stroke-width="0.85"/>
<text x="1659.5" y="784.2">C<tspan font-size="19" dy="8.6">8</tspan><tspan dy="-8.6">-to-T</tspan><tspan font-size="19" dy="8.6">8</tspan><tspan dy="-8.6"> edit</tspan></text>
<rect x="1631.7" y="818.7" width="15.6" height="15.6" fill="#b3b3b3" stroke="#262626" stroke-width="0.85"/>
<text x="1659.5" y="835.4">C<tspan font-size="19" dy="8.6">11</tspan><tspan dy="-8.6">-to-T</tspan><tspan font-size="19" dy="8.6">11</tspan><tspan dy="-8.6"> edit</tspan></text>
<rect x="1631.7" y="869.4" width="15.6" height="15.6" fill="#7f0f42" stroke="#262626" stroke-width="0.85"/>
<text x="1659.5" y="886.1">C<tspan font-size="19" dy="8.6">12</tspan><tspan dy="-8.6">-to-T</tspan><tspan font-size="19" dy="8.6">12</tspan><tspan dy="-8.6"> edit</tspan></text>
</g>
<g id="pe">
<text transform="translate(-0.3 1322.9) scale(0.94 1)" font-size="32" font-weight="bold" stroke="#000" stroke-width="0.5">e</text>
<text text-anchor="middle" x="284.3" y="1372.4">Oligomycin</text>
<text text-anchor="middle" x="285.6" y="1404.9">1.5 <tspan font-family="Liberation Serif,serif">µ</tspan><tspan dx="-1.8">M</tspan></text>
<text text-anchor="middle" x="417.3" y="1372.4">FCCP</text>
<text text-anchor="middle" x="418.4" y="1404.9">1 <tspan font-family="Liberation Serif,serif">µ</tspan><tspan dx="-1.8">M</tspan></text>
<text text-anchor="middle" x="553" y="1338.7">Piericidin</text>
<text text-anchor="middle" x="552.1" y="1371.2">antimycin</text>
<text text-anchor="middle" x="553.8" y="1403.6">1 <tspan font-family="Liberation Serif,serif">µ</tspan><tspan dx="-1.8">M</tspan></text>
<line x1="285.2" y1="1418.6" x2="285.2" y2="1705" stroke="#111" stroke-width="1.35" stroke-dasharray="5.4 3.1"/>
<line x1="421.7" y1="1422.4" x2="421.7" y2="1711" stroke="#111" stroke-width="1.3" stroke-dasharray="4.6 3.0"/>
<line x1="556.2" y1="1422.4" x2="556.2" y2="1711" stroke="#000" stroke-width="1.9" stroke-dasharray="4.6 3.0"/>
<line x1="177.8" y1="1524.3" x2="177.8" y2="1564" stroke="#7f0f42" stroke-width="1.5"/>
<line x1="175" y1="1524.3" x2="180.6" y2="1524.3" stroke="#7f0f42" stroke-width="1.5"/>
<line x1="175" y1="1564" x2="180.6" y2="1564" stroke="#7f0f42" stroke-width="1.5"/>
<line x1="221.5" y1="1527.3" x2="221.5" y2="1566" stroke="#7f0f42" stroke-width="1.5"/>
<line x1="218.7" y1="1527.3" x2="224.3" y2="1527.3" stroke="#7f0f42" stroke-width="1.5"/>
<line x1="218.7" y1="1566" x2="224.3" y2="1566" stroke="#7f0f42" stroke-width="1.5"/>
<line x1="265.5" y1="1528.5" x2="265.5" y2="1564.7" stroke="#7f0f42" stroke-width="1.5"/>
<line x1="262.7" y1="1528.5" x2="268.3" y2="1528.5" stroke="#7f0f42" stroke-width="1.5"/>
<line x1="262.7" y1="1564.7" x2="268.3" y2="1564.7" stroke="#7f0f42" stroke-width="1.5"/>
<line x1="309.7" y1="1633.4" x2="309.7" y2="1650.9" stroke="#7f0f42" stroke-width="1.5"/>
<line x1="306.9" y1="1633.4" x2="312.5" y2="1633.4" stroke="#7f0f42" stroke-width="1.5"/>
<line x1="306.9" y1="1650.9" x2="312.5" y2="1650.9" stroke="#7f0f42" stroke-width="1.5"/>
<line x1="353.4" y1="1608.4" x2="353.4" y2="1630.2" stroke="#7f0f42" stroke-width="1.5"/>
<line x1="350.6" y1="1608.4" x2="356.2" y2="1608.4" stroke="#7f0f42" stroke-width="1.5"/>
<line x1="350.6" y1="1630.2" x2="356.2" y2="1630.2" stroke="#7f0f42" stroke-width="1.5"/>
<line x1="397.6" y1="1593.4" x2="397.6" y2="1618.4" stroke="#7f0f42" stroke-width="1.5"/>
<line x1="394.8" y1="1593.4" x2="400.4" y2="1593.4" stroke="#7f0f42" stroke-width="1.5"/>
<line x1="394.8" y1="1618.4" x2="400.4" y2="1618.4" stroke="#7f0f42" stroke-width="1.5"/>
<line x1="442" y1="1472.3" x2="442" y2="1535.5" stroke="#7f0f42" stroke-width="1.5"/>
<line x1="439.2" y1="1472.3" x2="444.8" y2="1472.3" stroke="#7f0f42" stroke-width="1.5"/>
<line x1="439.2" y1="1535.5" x2="444.8" y2="1535.5" stroke="#7f0f42" stroke-width="1.5"/>
<line x1="485.7" y1="1482.8" x2="485.7" y2="1546.7" stroke="#7f0f42" stroke-width="1.5"/>
<line x1="482.9" y1="1482.8" x2="488.5" y2="1482.8" stroke="#7f0f42" stroke-width="1.5"/>
<line x1="482.9" y1="1546.7" x2="488.5" y2="1546.7" stroke="#7f0f42" stroke-width="1.5"/>
<line x1="529.9" y1="1493.5" x2="529.9" y2="1554.7" stroke="#7f0f42" stroke-width="1.5"/>
<line x1="527.1" y1="1493.5" x2="532.7" y2="1493.5" stroke="#7f0f42" stroke-width="1.5"/>
<line x1="527.1" y1="1554.7" x2="532.7" y2="1554.7" stroke="#7f0f42" stroke-width="1.5"/>
<line x1="574.1" y1="1678.4" x2="574.1" y2="1685" stroke="#7f0f42" stroke-width="1.5"/>
<line x1="571.3" y1="1678.4" x2="576.9" y2="1678.4" stroke="#7f0f42" stroke-width="1.5"/>
<line x1="571.3" y1="1685" x2="576.9" y2="1685" stroke="#7f0f42" stroke-width="1.5"/>
<line x1="618" y1="1677.6" x2="618" y2="1684.4" stroke="#7f0f42" stroke-width="1.5"/>
<line x1="615.2" y1="1677.6" x2="620.8" y2="1677.6" stroke="#7f0f42" stroke-width="1.5"/>
<line x1="615.2" y1="1684.4" x2="620.8" y2="1684.4" stroke="#7f0f42" stroke-width="1.5"/>
<line x1="661.7" y1="1679.4" x2="661.7" y2="1686.4" stroke="#7f0f42" stroke-width="1.5"/>
<line x1="658.9" y1="1679.4" x2="664.5" y2="1679.4" stroke="#7f0f42" stroke-width="1.5"/>
<line x1="658.9" y1="1686.4" x2="664.5" y2="1686.4" stroke="#7f0f42" stroke-width="1.5"/>
<path d="M177.8,1544.2 L221.5,1546.5 L265.5,1546.7 L309.7,1642.1 L353.4,1619.7 L397.6,1606.4 L442,1504 L485.7,1514.8 L529.9,1524 L574.1,1681.6 L618,1680.9 L661.7,1682.9" fill="none" stroke="#7f0f42" stroke-width="3.6" stroke-linejoin="round" stroke-linecap="round" stroke-dasharray="5.8 11.9"/>
<circle cx="177.8" cy="1544.2" r="2.8" fill="#7f0f42"/>
<circle cx="221.5" cy="1546.5" r="2.8" fill="#7f0f42"/>
<circle cx="265.5" cy="1546.7" r="2.8" fill="#7f0f42"/>
<circle cx="309.7" cy="1642.1" r="2.8" fill="#7f0f42"/>
<circle cx="353.4" cy="1619.7" r="2.8" fill="#7f0f42"/>
<circle cx="397.6" cy="1606.4" r="2.8" fill="#7f0f42"/>
<circle cx="442" cy="1504" r="2.8" fill="#7f0f42"/>
<circle cx="485.7" cy="1514.8" r="2.8" fill="#7f0f42"/>
<circle cx="529.9" cy="1524" r="2.8" fill="#7f0f42"/>
<circle cx="574.1" cy="1681.6" r="2.8" fill="#7f0f42"/>
<circle cx="618" cy="1680.9" r="2.8" fill="#7f0f42"/>
<circle cx="661.7" cy="1682.9" r="2.8" fill="#7f0f42"/>
<line x1="485.7" y1="1556" x2="485.7" y2="1562" stroke="#345aa8" stroke-width="1.5"/>
<line x1="482.9" y1="1556" x2="488.5" y2="1556" stroke="#345aa8" stroke-width="1.5"/>
<line x1="482.9" y1="1562" x2="488.5" y2="1562" stroke="#345aa8" stroke-width="1.5"/>
<line x1="529.9" y1="1561.5" x2="529.9" y2="1569.5" stroke="#345aa8" stroke-width="1.5"/>
<line x1="527.1" y1="1561.5" x2="532.7" y2="1561.5" stroke="#345aa8" stroke-width="1.5"/>
<line x1="527.1" y1="1569.5" x2="532.7" y2="1569.5" stroke="#345aa8" stroke-width="1.5"/>
<line x1="574.1" y1="1683.1" x2="574.1" y2="1691.1" stroke="#345aa8" stroke-width="1.5"/>
<line x1="571.3" y1="1683.1" x2="576.9" y2="1683.1" stroke="#345aa8" stroke-width="1.5"/>
<line x1="571.3" y1="1691.1" x2="576.9" y2="1691.1" stroke="#345aa8" stroke-width="1.5"/>
<line x1="618" y1="1687.8" x2="618" y2="1693.8" stroke="#345aa8" stroke-width="1.5"/>
<line x1="615.2" y1="1687.8" x2="620.8" y2="1687.8" stroke="#345aa8" stroke-width="1.5"/>
<line x1="615.2" y1="1693.8" x2="620.8" y2="1693.8" stroke="#345aa8" stroke-width="1.5"/>
<line x1="661.7" y1="1688.3" x2="661.7" y2="1694.3" stroke="#345aa8" stroke-width="1.5"/>
<line x1="658.9" y1="1688.3" x2="664.5" y2="1688.3" stroke="#345aa8" stroke-width="1.5"/>
<line x1="658.9" y1="1694.3" x2="664.5" y2="1694.3" stroke="#345aa8" stroke-width="1.5"/>
<path d="M177.8,1586.5 L221.5,1587.7 L265.5,1588.5 L309.7,1658.4 L353.4,1639.7 L397.6,1627.9 L442,1549.7 L485.7,1559 L529.9,1565.5 L574.1,1687.1 L618,1690.8 L661.7,1691.3" fill="none" stroke="#345aa8" stroke-width="3.6" stroke-linejoin="round" stroke-linecap="round" stroke-dasharray="5.8 11.9"/>
<circle cx="177.8" cy="1586.5" r="2.8" fill="#345aa8"/>
<circle cx="221.5" cy="1587.7" r="2.8" fill="#345aa8"/>
<circle cx="265.5" cy="1588.5" r="2.8" fill="#345aa8"/>
<circle cx="309.7" cy="1658.4" r="2.8" fill="#345aa8"/>
<circle cx="353.4" cy="1639.7" r="2.8" fill="#345aa8"/>
<circle cx="397.6" cy="1627.9" r="2.8" fill="#345aa8"/>
<circle cx="442" cy="1549.7" r="2.8" fill="#345aa8"/>
<circle cx="485.7" cy="1559" r="2.8" fill="#345aa8"/>
<circle cx="529.9" cy="1565.5" r="2.8" fill="#345aa8"/>
<circle cx="574.1" cy="1687.1" r="2.8" fill="#345aa8"/>
<circle cx="618" cy="1690.8" r="2.8" fill="#345aa8"/>
<circle cx="661.7" cy="1691.3" r="2.8" fill="#345aa8"/>
<line x1="177.8" y1="1633.7" x2="177.8" y2="1668" stroke="#7f0f42" stroke-width="1.5"/>
<line x1="175" y1="1633.7" x2="180.6" y2="1633.7" stroke="#7f0f42" stroke-width="1.5"/>
<line x1="175" y1="1668" x2="180.6" y2="1668" stroke="#7f0f42" stroke-width="1.5"/>
<line x1="221.5" y1="1633.7" x2="221.5" y2="1668" stroke="#7f0f42" stroke-width="1.5"/>
<line x1="218.7" y1="1633.7" x2="224.3" y2="1633.7" stroke="#7f0f42" stroke-width="1.5"/>
<line x1="218.7" y1="1668" x2="224.3" y2="1668" stroke="#7f0f42" stroke-width="1.5"/>
<line x1="265.5" y1="1633.7" x2="265.5" y2="1666.5" stroke="#7f0f42" stroke-width="1.5"/>
<line x1="262.7" y1="1633.7" x2="268.3" y2="1633.7" stroke="#7f0f42" stroke-width="1.5"/>
<line x1="262.7" y1="1666.5" x2="268.3" y2="1666.5" stroke="#7f0f42" stroke-width="1.5"/>
<line x1="309.7" y1="1670" x2="309.7" y2="1692.8" stroke="#7f0f42" stroke-width="1.5"/>
<line x1="306.9" y1="1670" x2="312.5" y2="1670" stroke="#7f0f42" stroke-width="1.5"/>
<line x1="306.9" y1="1692.8" x2="312.5" y2="1692.8" stroke="#7f0f42" stroke-width="1.5"/>
<line x1="353.4" y1="1662" x2="353.4" y2="1689.8" stroke="#7f0f42" stroke-width="1.5"/>
<line x1="350.6" y1="1662" x2="356.2" y2="1662" stroke="#7f0f42" stroke-width="1.5"/>
<line x1="350.6" y1="1689.8" x2="356.2" y2="1689.8" stroke="#7f0f42" stroke-width="1.5"/>
<line x1="397.6" y1="1657.4" x2="397.6" y2="1687.8" stroke="#7f0f42" stroke-width="1.5"/>
<line x1="394.8" y1="1657.4" x2="400.4" y2="1657.4" stroke="#7f0f42" stroke-width="1.5"/>
<line x1="394.8" y1="1687.8" x2="400.4" y2="1687.8" stroke="#7f0f42" stroke-width="1.5"/>
<line x1="442" y1="1620.4" x2="442" y2="1663.8" stroke="#7f0f42" stroke-width="1.5"/>
<line x1="439.2" y1="1620.4" x2="444.8" y2="1620.4" stroke="#7f0f42" stroke-width="1.5"/>
<line x1="439.2" y1="1663.8" x2="444.8" y2="1663.8" stroke="#7f0f42" stroke-width="1.5"/>
<line x1="485.7" y1="1628.4" x2="485.7" y2="1665.8" stroke="#7f0f42" stroke-width="1.5"/>
<line x1="482.9" y1="1628.4" x2="488.5" y2="1628.4" stroke="#7f0f42" stroke-width="1.5"/>
<line x1="482.9" y1="1665.8" x2="488.5" y2="1665.8" stroke="#7f0f42" stroke-width="1.5"/>
<line x1="529.9" y1="1635.4" x2="529.9" y2="1667.4" stroke="#7f0f42" stroke-width="1.5"/>
<line x1="527.1" y1="1635.4" x2="532.7" y2="1635.4" stroke="#7f0f42" stroke-width="1.5"/>
<line x1="527.1" y1="1667.4" x2="532.7" y2="1667.4" stroke="#7f0f42" stroke-width="1.5"/>
<line x1="574.1" y1="1694.2" x2="574.1" y2="1701" stroke="#7f0f42" stroke-width="1.5"/>
<line x1="571.3" y1="1694.2" x2="576.9" y2="1694.2" stroke="#7f0f42" stroke-width="1.5"/>
<line x1="571.3" y1="1701" x2="576.9" y2="1701" stroke="#7f0f42" stroke-width="1.5"/>
<line x1="618" y1="1694.2" x2="618" y2="1701" stroke="#7f0f42" stroke-width="1.5"/>
<line x1="615.2" y1="1694.2" x2="620.8" y2="1694.2" stroke="#7f0f42" stroke-width="1.5"/>
<line x1="615.2" y1="1701" x2="620.8" y2="1701" stroke="#7f0f42" stroke-width="1.5"/>
<line x1="661.7" y1="1695.2" x2="661.7" y2="1702.4" stroke="#7f0f42" stroke-width="1.5"/>
<line x1="658.9" y1="1695.2" x2="664.5" y2="1695.2" stroke="#7f0f42" stroke-width="1.5"/>
<line x1="658.9" y1="1702.4" x2="664.5" y2="1702.4" stroke="#7f0f42" stroke-width="1.5"/>
<path d="M177.8,1650.9 L221.5,1650.9 L265.5,1650.1 L309.7,1681.4 L353.4,1675.9 L397.6,1672.6 L442,1642.1 L485.7,1647.1 L529.9,1651.4 L574.1,1697.6 L618,1697.6 L661.7,1698.8" fill="none" stroke="#7f0f42" stroke-width="3.6" stroke-linejoin="round" stroke-linecap="round"/>
<circle cx="177.8" cy="1650.9" r="2.8" fill="#7f0f42"/>
<circle cx="221.5" cy="1650.9" r="2.8" fill="#7f0f42"/>
<circle cx="265.5" cy="1650.1" r="2.8" fill="#7f0f42"/>
<circle cx="309.7" cy="1681.4" r="2.8" fill="#7f0f42"/>
<circle cx="353.4" cy="1675.9" r="2.8" fill="#7f0f42"/>
<circle cx="397.6" cy="1672.6" r="2.8" fill="#7f0f42"/>
<circle cx="442" cy="1642.1" r="2.8" fill="#7f0f42"/>
<circle cx="485.7" cy="1647.1" r="2.8" fill="#7f0f42"/>
<circle cx="529.9" cy="1651.4" r="2.8" fill="#7f0f42"/>
<circle cx="574.1" cy="1697.6" r="2.8" fill="#7f0f42"/>
<circle cx="618" cy="1697.6" r="2.8" fill="#7f0f42"/>
<circle cx="661.7" cy="1698.8" r="2.8" fill="#7f0f42"/>
<line x1="177.8" y1="1661.2" x2="177.8" y2="1675.8" stroke="#345aa8" stroke-width="1.5"/>
<line x1="175" y1="1661.2" x2="180.6" y2="1661.2" stroke="#345aa8" stroke-width="1.5"/>
<line x1="175" y1="1675.8" x2="180.6" y2="1675.8" stroke="#345aa8" stroke-width="1.5"/>
<line x1="221.5" y1="1662" x2="221.5" y2="1671.2" stroke="#345aa8" stroke-width="1.5"/>
<line x1="218.7" y1="1662" x2="224.3" y2="1662" stroke="#345aa8" stroke-width="1.5"/>
<line x1="218.7" y1="1671.2" x2="224.3" y2="1671.2" stroke="#345aa8" stroke-width="1.5"/>
<line x1="265.5" y1="1663" x2="265.5" y2="1671.2" stroke="#345aa8" stroke-width="1.5"/>
<line x1="262.7" y1="1663" x2="268.3" y2="1663" stroke="#345aa8" stroke-width="1.5"/>
<line x1="262.7" y1="1671.2" x2="268.3" y2="1671.2" stroke="#345aa8" stroke-width="1.5"/>
<line x1="353.4" y1="1682.4" x2="353.4" y2="1689.4" stroke="#345aa8" stroke-width="1.5"/>
<line x1="350.6" y1="1682.4" x2="356.2" y2="1682.4" stroke="#345aa8" stroke-width="1.5"/>
<line x1="350.6" y1="1689.4" x2="356.2" y2="1689.4" stroke="#345aa8" stroke-width="1.5"/>
<line x1="397.6" y1="1679.4" x2="397.6" y2="1687.4" stroke="#345aa8" stroke-width="1.5"/>
<line x1="394.8" y1="1679.4" x2="400.4" y2="1679.4" stroke="#345aa8" stroke-width="1.5"/>
<line x1="394.8" y1="1687.4" x2="400.4" y2="1687.4" stroke="#345aa8" stroke-width="1.5"/>
<line x1="442" y1="1650.4" x2="442" y2="1671.4" stroke="#345aa8" stroke-width="1.5"/>
<line x1="439.2" y1="1650.4" x2="444.8" y2="1650.4" stroke="#345aa8" stroke-width="1.5"/>
<line x1="439.2" y1="1671.4" x2="444.8" y2="1671.4" stroke="#345aa8" stroke-width="1.5"/>
<line x1="485.7" y1="1653.4" x2="485.7" y2="1672.6" stroke="#345aa8" stroke-width="1.5"/>
<line x1="482.9" y1="1653.4" x2="488.5" y2="1653.4" stroke="#345aa8" stroke-width="1.5"/>
<line x1="482.9" y1="1672.6" x2="488.5" y2="1672.6" stroke="#345aa8" stroke-width="1.5"/>
<line x1="529.9" y1="1657.1" x2="529.9" y2="1675.9" stroke="#345aa8" stroke-width="1.5"/>
<line x1="527.1" y1="1657.1" x2="532.7" y2="1657.1" stroke="#345aa8" stroke-width="1.5"/>
<line x1="527.1" y1="1675.9" x2="532.7" y2="1675.9" stroke="#345aa8" stroke-width="1.5"/>
<line x1="574.1" y1="1697" x2="574.1" y2="1703.6" stroke="#345aa8" stroke-width="1.5"/>
<line x1="571.3" y1="1697" x2="576.9" y2="1697" stroke="#345aa8" stroke-width="1.5"/>
<line x1="571.3" y1="1703.6" x2="576.9" y2="1703.6" stroke="#345aa8" stroke-width="1.5"/>
<line x1="618" y1="1697" x2="618" y2="1703.6" stroke="#345aa8" stroke-width="1.5"/>
<line x1="615.2" y1="1697" x2="620.8" y2="1697" stroke="#345aa8" stroke-width="1.5"/>
<line x1="615.2" y1="1703.6" x2="620.8" y2="1703.6" stroke="#345aa8" stroke-width="1.5"/>
<line x1="661.7" y1="1698" x2="661.7" y2="1704.6" stroke="#345aa8" stroke-width="1.5"/>
<line x1="658.9" y1="1698" x2="664.5" y2="1698" stroke="#345aa8" stroke-width="1.5"/>
<line x1="658.9" y1="1704.6" x2="664.5" y2="1704.6" stroke="#345aa8" stroke-width="1.5"/>
<path d="M177.8,1668.9 L221.5,1666.6 L265.5,1667.1 L309.7,1690.3 L353.4,1685.9 L397.6,1683.4 L442,1661.4 L485.7,1663.9 L529.9,1666.4 L574.1,1700.3 L618,1700.3 L661.7,1701.3" fill="none" stroke="#345aa8" stroke-width="3.6" stroke-linejoin="round" stroke-linecap="round"/>
<circle cx="177.8" cy="1668.9" r="2.8" fill="#345aa8"/>
<circle cx="221.5" cy="1666.6" r="2.8" fill="#345aa8"/>
<circle cx="265.5" cy="1667.1" r="2.8" fill="#345aa8"/>
<circle cx="309.7" cy="1690.3" r="2.8" fill="#345aa8"/>
<circle cx="353.4" cy="1685.9" r="2.8" fill="#345aa8"/>
<circle cx="397.6" cy="1683.4" r="2.8" fill="#345aa8"/>
<circle cx="442" cy="1661.4" r="2.8" fill="#345aa8"/>
<circle cx="485.7" cy="1663.9" r="2.8" fill="#345aa8"/>
<circle cx="529.9" cy="1666.4" r="2.8" fill="#345aa8"/>
<circle cx="574.1" cy="1700.3" r="2.8" fill="#345aa8"/>
<circle cx="618" cy="1700.3" r="2.8" fill="#345aa8"/>
<circle cx="661.7" cy="1701.3" r="2.8" fill="#345aa8"/>
<line x1="168.6" y1="1403.4" x2="168.6" y2="1712" stroke="#000" stroke-width="1.7"/>
<line x1="163.6" y1="1711.2" x2="713.6" y2="1711.2" stroke="#000" stroke-width="1.7"/>
<line x1="163.6" y1="1711.2" x2="168.6" y2="1711.2" stroke="#000" stroke-width="1.7"/>
<text text-anchor="end" x="150.2" y="1720.8">0</text>
<line x1="163.6" y1="1634.4" x2="168.6" y2="1634.4" stroke="#000" stroke-width="1.7"/>
<text text-anchor="end" x="150.2" y="1644">50</text>
<line x1="163.6" y1="1557.6" x2="168.6" y2="1557.6" stroke="#000" stroke-width="1.7"/>
<text text-anchor="end" x="150.2" y="1567.2">100</text>
<line x1="163.6" y1="1480.8" x2="168.6" y2="1480.8" stroke="#000" stroke-width="1.7"/>
<text text-anchor="end" x="150.2" y="1490.4">150</text>
<line x1="163.6" y1="1404.25" x2="168.6" y2="1404.25" stroke="#000" stroke-width="1.7"/>
<text text-anchor="end" x="150.2" y="1413.6">200</text>
<line x1="168.9" y1="1711.2" x2="168.9" y2="1717.2" stroke="#000" stroke-width="1.7"/>
<text text-anchor="middle" x="168.3" y="1747.3">0</text>
<line x1="305.1" y1="1711.2" x2="305.1" y2="1717.2" stroke="#000" stroke-width="1.7"/>
<text text-anchor="middle" x="304.5" y="1747.3">20</text>
<line x1="441.3" y1="1711.2" x2="441.3" y2="1717.2" stroke="#000" stroke-width="1.7"/>
<text text-anchor="middle" x="440.7" y="1747.3">40</text>
<line x1="577.5" y1="1711.2" x2="577.5" y2="1717.2" stroke="#000" stroke-width="1.7"/>
<text text-anchor="middle" x="576.9" y="1747.3">60</text>
<line x1="712.75" y1="1711.2" x2="712.75" y2="1717.2" stroke="#000" stroke-width="1.7"/>
<text text-anchor="middle" x="713.1" y="1747.3">80</text>
<text text-anchor="middle" x="440.4" y="1788.7">Time (min)</text>
<text text-anchor="middle" transform="translate(78.7 1556.8) rotate(-90)">OCR (pmol min<tspan font-size="19" dy="-10.6">−1</tspan><tspan dy="10.6">)</tspan></text>
<line x1="603.5" y1="1464.3" x2="643.5" y2="1464.3" stroke="#345aa8" stroke-width="3.6"/>
<circle cx="623.5" cy="1464.3" r="2.8" fill="#345aa8"/>
<text x="661.8" y="1473.8">ND4.2-DdCBE</text>
<line x1="605.3" y1="1511.8" x2="641.7" y2="1511.8" stroke="#345aa8" stroke-width="3.6" stroke-linecap="round" stroke-dasharray="7.4 6.9"/>
<circle cx="623.5" cy="1511.8" r="2.8" fill="#345aa8"/>
<text x="661.8" y="1521.3">Dead ND4.2-DdCBE</text>
<line x1="603.5" y1="1559.7" x2="643.5" y2="1559.7" stroke="#7f0f42" stroke-width="3.6"/>
<circle cx="623.5" cy="1559.7" r="2.8" fill="#7f0f42"/>
<text x="661.8" y="1569.2">ND5.4-DdCBE</text>
<line x1="605.3" y1="1607.7" x2="641.7" y2="1607.7" stroke="#7f0f42" stroke-width="3.6" stroke-linecap="round" stroke-dasharray="7.4 6.9"/>
<circle cx="623.5" cy="1607.7" r="2.8" fill="#7f0f42"/>
<text x="661.8" y="1617.2">Dead ND5.4-DdCBE</text>
</g>
<g id="pf">
<defs><pattern id="hb" patternUnits="userSpaceOnUse" width="3.4" height="3.9"><path d="M-3.4,-3.9 L6.8,7.8 M-3.4,0 L3.4,7.8 M0,-3.9 L6.8,3.9" stroke="#6f8dd0" stroke-width="0.8" fill="none"/></pattern><pattern id="hc" patternUnits="userSpaceOnUse" width="3.4" height="3.9"><path d="M-3.4,-3.9 L6.8,7.8 M-3.4,0 L3.4,7.8 M0,-3.9 L6.8,3.9" stroke="#b25a84" stroke-width="0.8" fill="none"/></pattern></defs>
<text transform="translate(971.8 1322.9) scale(0.94 1)" font-size="32" font-weight="bold" stroke="#000" stroke-width="0.5">f</text>
<rect x="1089.5" y="1500.3" width="21.8" height="43.7" fill="#345aa8" stroke="#1b2f5e" stroke-width="0.8"/>
<rect x="1111.5" y="1401.8" width="21.9" height="142.2" fill="url(#hb)" stroke="#8fa6da" stroke-width="1"/>
<rect x="1134" y="1496.5" width="20.8" height="47.5" fill="#7f0f42" stroke="#5a0a30" stroke-width="0.8"/>
<rect x="1155.4" y="1401.8" width="22" height="142.2" fill="url(#hc)" stroke="#c07a9c" stroke-width="1"/>
<rect x="1199.4" y="1501.8" width="21.8" height="42.2" fill="#345aa8" stroke="#1b2f5e" stroke-width="0.8"/>
<rect x="1221.4" y="1401.8" width="21.9" height="142.2" fill="url(#hb)" stroke="#8fa6da" stroke-width="1"/>
<rect x="1243.9" y="1501" width="20.8" height="43" fill="#7f0f42" stroke="#5a0a30" stroke-width="0.8"/>
<rect x="1265.3" y="1401.8" width="22" height="142.2" fill="url(#hc)" stroke="#c07a9c" stroke-width="1"/>
<rect x="1309.3" y="1496.8" width="21.8" height="47.2" fill="#345aa8" stroke="#1b2f5e" stroke-width="0.8"/>
<rect x="1331.3" y="1401.8" width="21.9" height="142.2" fill="url(#hb)" stroke="#8fa6da" stroke-width="1"/>
<rect x="1353.8" y="1486.8" width="20.8" height="57.2" fill="#7f0f42" stroke="#5a0a30" stroke-width="0.8"/>
<rect x="1375.2" y="1401.8" width="22" height="142.2" fill="url(#hc)" stroke="#c07a9c" stroke-width="1"/>
<rect x="1419.4" y="1503.5" width="21.8" height="40.5" fill="#345aa8" stroke="#1b2f5e" stroke-width="0.8"/>
<rect x="1441.4" y="1401.8" width="21.9" height="142.2" fill="url(#hb)" stroke="#8fa6da" stroke-width="1"/>
<rect x="1463.9" y="1499.8" width="20.8" height="44.2" fill="#7f0f42" stroke="#5a0a30" stroke-width="0.8"/>
<rect x="1485.3" y="1401.8" width="22" height="142.2" fill="url(#hc)" stroke="#c07a9c" stroke-width="1"/>
<line x1="1100.4" y1="1484.1" x2="1100.4" y2="1516.5" stroke="#000" stroke-width="1"/>
<line x1="1094.9" y1="1484.1" x2="1105.9" y2="1484.1" stroke="#000" stroke-width="1"/>
<line x1="1094.9" y1="1516.5" x2="1105.9" y2="1516.5" stroke="#000" stroke-width="1"/>
<circle cx="1100.4" cy="1488.5" r="1.95" fill="#000"/>
<circle cx="1100.4" cy="1511.5" r="1.95" fill="#000"/>
<line x1="1122.45" y1="1393.1" x2="1122.45" y2="1408.6" stroke="#000" stroke-width="1"/>
<line x1="1116.95" y1="1393.1" x2="1127.95" y2="1393.1" stroke="#000" stroke-width="1"/>
<line x1="1116.95" y1="1408.6" x2="1127.95" y2="1408.6" stroke="#000" stroke-width="1"/>
<circle cx="1119.05" cy="1395.6" r="1.95" fill="#000"/>
<circle cx="1125.65" cy="1397.4" r="1.95" fill="#000"/>
<circle cx="1122.45" cy="1410.1" r="1.95" fill="#000"/>
<line x1="1144.4" y1="1483.1" x2="1144.4" y2="1509" stroke="#000" stroke-width="1"/>
<line x1="1138.9" y1="1483.1" x2="1149.9" y2="1483.1" stroke="#000" stroke-width="1"/>
<line x1="1138.9" y1="1509" x2="1149.9" y2="1509" stroke="#000" stroke-width="1"/>
<circle cx="1141.2" cy="1489" r="1.95" fill="#000"/>
<circle cx="1147.6" cy="1489" r="1.95" fill="#000"/>
<circle cx="1144.4" cy="1510.3" r="1.95" fill="#000"/>
<line x1="1166.4" y1="1382.9" x2="1166.4" y2="1419.4" stroke="#a8386a" stroke-width="1"/>
<line x1="1160.9" y1="1382.9" x2="1171.9" y2="1382.9" stroke="#a8386a" stroke-width="1"/>
<line x1="1160.9" y1="1419.4" x2="1171.9" y2="1419.4" stroke="#a8386a" stroke-width="1"/>
<circle cx="1166.4" cy="1386.9" r="1.95" fill="#000"/>
<circle cx="1166.4" cy="1394.4" r="1.95" fill="#000"/>
<circle cx="1166.4" cy="1421.6" r="1.95" fill="#000"/>
<line x1="1210.3" y1="1483.1" x2="1210.3" y2="1519.3" stroke="#000" stroke-width="1"/>
<line x1="1204.8" y1="1483.1" x2="1215.8" y2="1483.1" stroke="#000" stroke-width="1"/>
<line x1="1204.8" y1="1519.3" x2="1215.8" y2="1519.3" stroke="#000" stroke-width="1"/>
<circle cx="1210.3" cy="1488.5" r="1.95" fill="#000"/>
<circle cx="1210.3" cy="1514.8" r="1.95" fill="#000"/>
<line x1="1232.35" y1="1397.4" x2="1232.35" y2="1405.6" stroke="#000" stroke-width="1"/>
<line x1="1226.85" y1="1397.4" x2="1237.85" y2="1397.4" stroke="#000" stroke-width="1"/>
<line x1="1226.85" y1="1405.6" x2="1237.85" y2="1405.6" stroke="#000" stroke-width="1"/>
<circle cx="1229.15" cy="1399.1" r="1.95" fill="#000"/>
<circle cx="1235.55" cy="1399.9" r="1.95" fill="#000"/>
<circle cx="1232.35" cy="1406.1" r="1.95" fill="#000"/>
<line x1="1254.3" y1="1489.3" x2="1254.3" y2="1511.5" stroke="#000" stroke-width="1"/>
<line x1="1248.8" y1="1489.3" x2="1259.8" y2="1489.3" stroke="#000" stroke-width="1"/>
<line x1="1248.8" y1="1511.5" x2="1259.8" y2="1511.5" stroke="#000" stroke-width="1"/>
<circle cx="1254.3" cy="1489.8" r="1.95" fill="#000"/>
<circle cx="1254.3" cy="1500.3" r="1.95" fill="#000"/>
<circle cx="1254.3" cy="1511.5" r="1.95" fill="#000"/>
<line x1="1276.3" y1="1384.9" x2="1276.3" y2="1418.6" stroke="#a8386a" stroke-width="1"/>
<line x1="1270.8" y1="1384.9" x2="1281.8" y2="1384.9" stroke="#a8386a" stroke-width="1"/>
<line x1="1270.8" y1="1418.6" x2="1281.8" y2="1418.6" stroke="#a8386a" stroke-width="1"/>
<circle cx="1276.3" cy="1385.6" r="1.95" fill="#000"/>
<circle cx="1276.3" cy="1399.9" r="1.95" fill="#000"/>
<circle cx="1276.3" cy="1418.6" r="1.95" fill="#000"/>
<line x1="1320.2" y1="1487.6" x2="1320.2" y2="1505.3" stroke="#000" stroke-width="1"/>
<line x1="1314.7" y1="1487.6" x2="1325.7" y2="1487.6" stroke="#000" stroke-width="1"/>
<line x1="1314.7" y1="1505.3" x2="1325.7" y2="1505.3" stroke="#000" stroke-width="1"/>
<circle cx="1320.2" cy="1489.8" r="1.95" fill="#000"/>
<circle cx="1320.2" cy="1503" r="1.95" fill="#000"/>
<line x1="1342.25" y1="1382.4" x2="1342.25" y2="1420.4" stroke="#000" stroke-width="1"/>
<line x1="1336.75" y1="1382.4" x2="1347.75" y2="1382.4" stroke="#000" stroke-width="1"/>
<line x1="1336.75" y1="1420.4" x2="1347.75" y2="1420.4" stroke="#000" stroke-width="1"/>
<circle cx="1342.25" cy="1386.9" r="1.95" fill="#000"/>
<circle cx="1342.25" cy="1394.4" r="1.95" fill="#000"/>
<circle cx="1342.25" cy="1423.1" r="1.95" fill="#000"/>
<line x1="1364.2" y1="1461.8" x2="1364.2" y2="1509.8" stroke="#000" stroke-width="1"/>
<line x1="1358.7" y1="1461.8" x2="1369.7" y2="1461.8" stroke="#000" stroke-width="1"/>
<line x1="1358.7" y1="1509.8" x2="1369.7" y2="1509.8" stroke="#000" stroke-width="1"/>
<circle cx="1364.2" cy="1461.1" r="1.95" fill="#000"/>
<circle cx="1364.2" cy="1487.3" r="1.95" fill="#000"/>
<circle cx="1364.2" cy="1509" r="1.95" fill="#000"/>
<line x1="1386.2" y1="1374.4" x2="1386.2" y2="1428.1" stroke="#a8386a" stroke-width="1"/>
<line x1="1380.7" y1="1374.4" x2="1391.7" y2="1374.4" stroke="#a8386a" stroke-width="1"/>
<line x1="1380.7" y1="1428.1" x2="1391.7" y2="1428.1" stroke="#a8386a" stroke-width="1"/>
<circle cx="1386.2" cy="1379.9" r="1.95" fill="#000"/>
<circle cx="1386.2" cy="1392.9" r="1.95" fill="#000"/>
<circle cx="1386.2" cy="1431.6" r="1.95" fill="#000"/>
<line x1="1430.3" y1="1488.6" x2="1430.3" y2="1518.5" stroke="#000" stroke-width="1"/>
<line x1="1424.8" y1="1488.6" x2="1435.8" y2="1488.6" stroke="#000" stroke-width="1"/>
<line x1="1424.8" y1="1518.5" x2="1435.8" y2="1518.5" stroke="#000" stroke-width="1"/>
<circle cx="1430.3" cy="1493" r="1.95" fill="#000"/>
<circle cx="1430.3" cy="1514.8" r="1.95" fill="#000"/>
<line x1="1452.35" y1="1395.4" x2="1452.35" y2="1406.6" stroke="#000" stroke-width="1"/>
<line x1="1446.85" y1="1395.4" x2="1457.85" y2="1395.4" stroke="#000" stroke-width="1"/>
<line x1="1446.85" y1="1406.6" x2="1457.85" y2="1406.6" stroke="#000" stroke-width="1"/>
<circle cx="1452.35" cy="1396.1" r="1.95" fill="#000"/>
<circle cx="1452.35" cy="1401.1" r="1.95" fill="#000"/>
<circle cx="1452.35" cy="1407.4" r="1.95" fill="#000"/>
<line x1="1474.3" y1="1486.6" x2="1474.3" y2="1512.3" stroke="#000" stroke-width="1"/>
<line x1="1468.8" y1="1486.6" x2="1479.8" y2="1486.6" stroke="#000" stroke-width="1"/>
<line x1="1468.8" y1="1512.3" x2="1479.8" y2="1512.3" stroke="#000" stroke-width="1"/>
<circle cx="1474.3" cy="1487.3" r="1.95" fill="#000"/>
<circle cx="1474.3" cy="1497.3" r="1.95" fill="#000"/>
<circle cx="1474.3" cy="1513" r="1.95" fill="#000"/>
<line x1="1496.3" y1="1378.2" x2="1496.3" y2="1424.4" stroke="#a8386a" stroke-width="1"/>
<line x1="1490.8" y1="1378.2" x2="1501.8" y2="1378.2" stroke="#a8386a" stroke-width="1"/>
<line x1="1490.8" y1="1424.4" x2="1501.8" y2="1424.4" stroke="#a8386a" stroke-width="1"/>
<circle cx="1496.3" cy="1375.7" r="1.95" fill="#000"/>
<circle cx="1496.3" cy="1408.6" r="1.95" fill="#000"/>
<circle cx="1496.3" cy="1420.4" r="1.95" fill="#000"/>
<path d="M1094.9,1466.1 L1094.9,1359.9 L1119.1,1359.9 L1119.1,1381.2" fill="none" stroke="#000" stroke-width="1.7"/>
<text font-size="28" text-anchor="middle" x="1108.5" y="1362.9" letter-spacing="3.1">**</text>
<path d="M1144.1,1451.8 L1144.1,1348.2 L1169.3,1348.2 L1169.3,1364.9" fill="none" stroke="#000" stroke-width="1.7"/>
<text font-size="28" text-anchor="middle" x="1158.2" y="1351.2" letter-spacing="3.1">**</text>
<path d="M1205.5,1462.8 L1205.5,1366.9 L1232.7,1366.9 L1232.7,1379.9" fill="none" stroke="#000" stroke-width="1.7"/>
<text font-size="28" text-anchor="middle" x="1220.6" y="1369.9" letter-spacing="3.1">**</text>
<path d="M1254,1459.8 L1254,1355.4 L1278.9,1355.4 L1278.9,1372.4" fill="none" stroke="#000" stroke-width="1.7"/>
<text font-size="28" text-anchor="middle" x="1267.95" y="1358.4" letter-spacing="3.1">***</text>
<path d="M1317.6,1473.1 L1317.6,1356.7 L1344.6,1356.7 L1344.6,1369.9" fill="none" stroke="#000" stroke-width="1.7"/>
<text font-size="28" text-anchor="middle" x="1332.6" y="1359.7" letter-spacing="3.1">**</text>
<path d="M1362.6,1451.8 L1362.6,1335.5 L1386.3,1335.5 L1386.3,1366.2" fill="none" stroke="#000" stroke-width="1.7"/>
<text font-size="28" text-anchor="middle" x="1375.95" y="1338.5" letter-spacing="3.1">*</text>
<path d="M1427.2,1468.6 L1427.2,1362.4 L1451.4,1362.4 L1451.4,1382.9" fill="none" stroke="#000" stroke-width="1.7"/>
<text font-size="28" text-anchor="middle" x="1440.8" y="1365.4" letter-spacing="3.1">**</text>
<path d="M1473.9,1473.1 L1473.9,1341.2 L1497.1,1341.2 L1497.1,1362.4" fill="none" stroke="#000" stroke-width="1.7"/>
<text font-size="28" text-anchor="middle" x="1487" y="1344.2" letter-spacing="3.1">**</text>
<line x1="1078.6" y1="1329" x2="1078.6" y2="1545" stroke="#000" stroke-width="1.9"/>
<line x1="1071.1" y1="1544" x2="1518.4" y2="1544" stroke="#000" stroke-width="1.85"/>
<line x1="1071.1" y1="1544" x2="1078.6" y2="1544" stroke="#000" stroke-width="1.9"/>
<text text-anchor="end" x="1058" y="1552.8">0</text>
<line x1="1071.1" y1="1472.5" x2="1078.6" y2="1472.5" stroke="#000" stroke-width="1.9"/>
<text text-anchor="end" x="1058" y="1481.3">0.5</text>
<line x1="1071.1" y1="1401" x2="1078.6" y2="1401" stroke="#000" stroke-width="1.9"/>
<text text-anchor="end" x="1058" y="1409.8">1.0</text>
<line x1="1071.1" y1="1329.85" x2="1078.6" y2="1329.85" stroke="#000" stroke-width="1.9"/>
<text text-anchor="end" x="1058" y="1338.3">1.5</text>
<line x1="1132.8" y1="1544" x2="1132.8" y2="1551.2" stroke="#000" stroke-width="1.9"/>
<line x1="1242.7" y1="1544" x2="1242.7" y2="1551.2" stroke="#000" stroke-width="1.9"/>
<line x1="1352.6" y1="1544" x2="1352.6" y2="1551.2" stroke="#000" stroke-width="1.9"/>
<line x1="1462.7" y1="1544" x2="1462.7" y2="1551.2" stroke="#000" stroke-width="1.9"/>
<text text-anchor="middle" transform="translate(995 1440.2) rotate(-90)">Relative OCR</text>
<text text-anchor="end" transform="translate(1142.4 1564.2) rotate(-90)">Basal respiration</text>
<text text-anchor="end" transform="translate(1252.3 1564.2) rotate(-90)">ATP production</text>
<text text-anchor="end" transform="translate(1362.2 1564.2) rotate(-90)">Proton leak</text>
<text text-anchor="end" transform="translate(1472.3 1564.2) rotate(-90)">Maximal respiration</text>
<rect x="1541.8" y="1387.7" width="23.3" height="23.6" fill="#345aa8" stroke="#222" stroke-width="1"/>
<text x="1578.6" y="1408.2">ND4.2-DdCBE</text>
<rect x="1541.8" y="1428.9" width="23.3" height="23.6" fill="url(#hb)" stroke="#8fa6da" stroke-width="1"/>
<text x="1578.6" y="1449.4">Dead ND4.2-DdCBE</text>
<rect x="1541.8" y="1470.5" width="23.3" height="23.6" fill="#7f0f42" stroke="#3a0a20" stroke-width="1"/>
<text x="1578.6" y="1491">ND5.4-DdCBE</text>
<rect x="1541.8" y="1512.2" width="23.3" height="23.6" fill="url(#hc)" stroke="#c07a9c" stroke-width="1"/>
<text x="1578.6" y="1532.7">Dead ND5.4-DdCBE</text>
</g>
</svg>
</body></html>
